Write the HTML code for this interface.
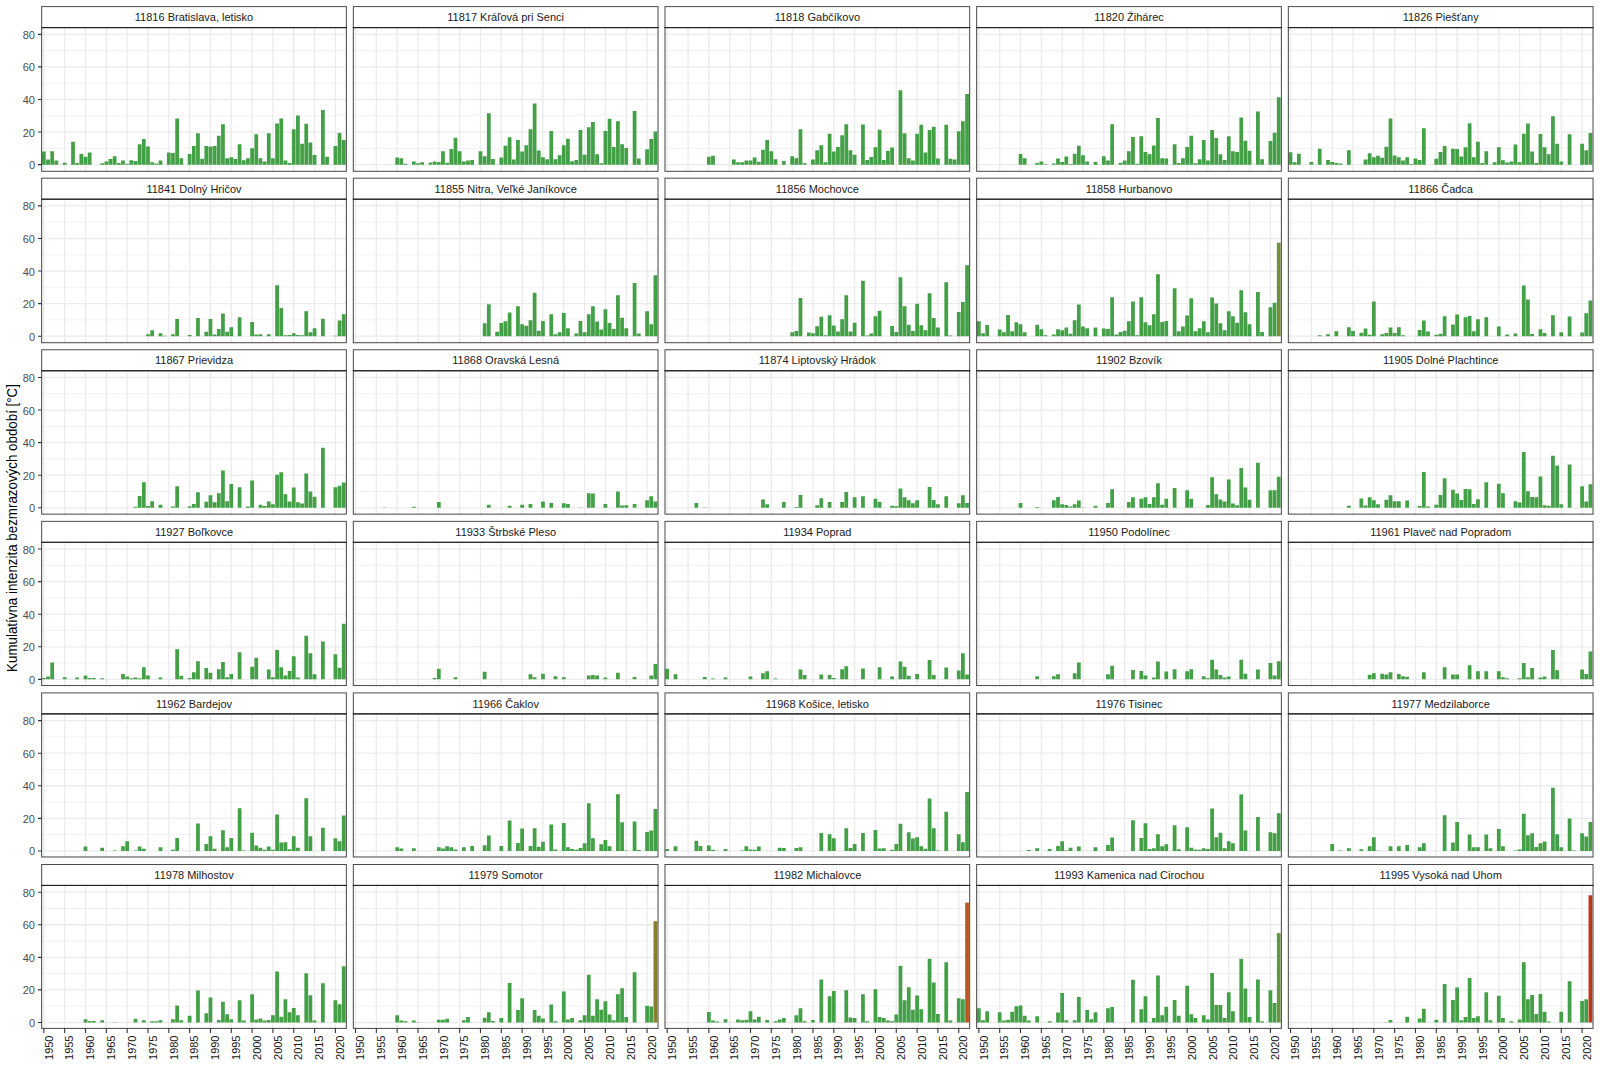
<!DOCTYPE html><html><head><meta charset="utf-8"><title>chart</title><style>html,body{margin:0;padding:0;background:#fff}svg{display:block}text{font-family:"Liberation Sans",sans-serif}</style></head><body>
<svg width="1600" height="1067" viewBox="0 0 1600 1067">
<rect width="1600" height="1067" fill="#fff"/>
<text transform="translate(16.9,528.0) rotate(-90) scale(0.941,1)" text-anchor="middle" font-size="14.2" fill="#000">Kumulatívna intenzita bezmrazových období [°C]</text>
<path d="M41.65 148.36h304.70M41.65 115.78h304.70M41.65 83.20h304.70M41.65 50.62h304.70" stroke="#ececec" stroke-width="0.7" fill="none"/>
<path d="M41.65 164.65h304.70M41.65 132.07h304.70M41.65 99.49h304.70M41.65 66.91h304.70M41.65 34.33h304.70M43.85 27.60v143.70M64.67 27.60v143.70M85.50 27.60v143.70M106.33 27.60v143.70M127.15 27.60v143.70M147.97 27.60v143.70M168.80 27.60v143.70M189.62 27.60v143.70M210.45 27.60v143.70M231.28 27.60v143.70M252.10 27.60v143.70M272.93 27.60v143.70M293.75 27.60v143.70M314.58 27.60v143.70M335.40 27.60v143.70" stroke="#ebebeb" stroke-width="1.3" fill="none"/>
<path d="M41.98 151.46h3.75v13.19h-3.75zM46.14 159.60h3.75v5.05h-3.75zM50.31 151.13h3.75v13.52h-3.75zM54.47 160.41h3.75v4.24h-3.75zM62.80 162.86h3.75v1.79h-3.75zM71.13 141.84h3.75v22.81h-3.75zM75.30 163.02h3.75v1.63h-3.75zM79.46 154.06h3.75v10.59h-3.75zM83.63 156.67h3.75v7.98h-3.75zM87.79 152.60h3.75v12.05h-3.75zM100.29 163.18h3.75v1.47h-3.75zM104.45 161.39h3.75v3.26h-3.75zM108.62 159.11h3.75v5.54h-3.75zM112.78 156.34h3.75v8.31h-3.75zM116.95 163.02h3.75v1.63h-3.75zM121.11 160.41h3.75v4.24h-3.75zM125.28 163.84h3.75v0.81h-3.75zM129.44 160.25h3.75v4.40h-3.75zM133.61 160.90h3.75v3.75h-3.75zM137.77 144.29h3.75v20.36h-3.75zM141.94 139.07h3.75v25.58h-3.75zM146.10 146.41h3.75v18.24h-3.75zM150.27 162.21h3.75v2.44h-3.75zM154.43 163.51h3.75v1.14h-3.75zM158.60 160.41h3.75v4.24h-3.75zM166.93 152.43h3.75v12.22h-3.75zM171.09 153.08h3.75v11.57h-3.75zM175.26 118.39h3.75v46.26h-3.75zM179.42 158.30h3.75v6.35h-3.75zM187.75 154.06h3.75v10.59h-3.75zM191.92 146.08h3.75v18.57h-3.75zM196.08 133.37h3.75v31.28h-3.75zM200.25 158.79h3.75v5.86h-3.75zM204.41 146.08h3.75v18.57h-3.75zM208.58 146.41h3.75v18.24h-3.75zM212.74 145.92h3.75v18.73h-3.75zM216.91 135.82h3.75v28.83h-3.75zM221.07 124.25h3.75v40.40h-3.75zM225.24 158.30h3.75v6.35h-3.75zM229.40 157.32h3.75v7.33h-3.75zM233.57 159.11h3.75v5.54h-3.75zM237.73 144.29h3.75v20.36h-3.75zM241.90 160.25h3.75v4.40h-3.75zM246.06 158.30h3.75v6.35h-3.75zM250.23 148.36h3.75v16.29h-3.75zM254.39 134.35h3.75v30.30h-3.75zM258.56 158.30h3.75v6.35h-3.75zM262.72 161.39h3.75v3.26h-3.75zM266.89 133.37h3.75v31.28h-3.75zM271.05 158.30h3.75v6.35h-3.75zM275.22 123.44h3.75v41.21h-3.75zM279.38 118.55h3.75v46.10h-3.75zM283.55 160.41h3.75v4.24h-3.75zM287.71 163.02h3.75v1.63h-3.75zM291.88 129.14h3.75v35.51h-3.75zM296.04 115.45h3.75v49.20h-3.75zM300.21 143.64h3.75v21.01h-3.75zM304.37 123.76h3.75v40.89h-3.75zM308.54 142.50h3.75v22.15h-3.75zM312.70 155.04h3.75v9.61h-3.75zM321.03 109.92h3.75v54.73h-3.75zM325.20 156.83h3.75v7.82h-3.75zM333.53 146.08h3.75v18.57h-3.75zM337.69 133.05h3.75v31.60h-3.75zM341.86 139.89h3.75v24.76h-3.75z" fill="#43a047"/>
<rect x="41.65" y="27.60" width="304.70" height="143.70" fill="none" stroke="#444" stroke-width="1.0"/>
<rect x="41.65" y="6.60" width="304.70" height="21.00" fill="#fff" stroke="#4a4a4a" stroke-width="1"/>
<line x1="41.15" x2="346.85" y1="27.60" y2="27.60" stroke="#1c1c1c" stroke-width="1.0"/>
<text transform="translate(194.00,21.30) scale(1.0,1)" text-anchor="middle" font-size="11.0" fill="#1a1a1a">11816 Bratislava, letisko</text>
<text transform="translate(35.00,169.20) scale(1.0,1)" text-anchor="end" font-size="11.0" fill="#4d4d4d">0</text>
<text transform="translate(35.00,136.62) scale(1.0,1)" text-anchor="end" font-size="11.0" fill="#4d4d4d">20</text>
<text transform="translate(35.00,104.04) scale(1.0,1)" text-anchor="end" font-size="11.0" fill="#4d4d4d">40</text>
<text transform="translate(35.00,71.46) scale(1.0,1)" text-anchor="end" font-size="11.0" fill="#4d4d4d">60</text>
<text transform="translate(35.00,38.88) scale(1.0,1)" text-anchor="end" font-size="11.0" fill="#4d4d4d">80</text>
<path d="M37.98 164.65h3.67M37.98 132.07h3.67M37.98 99.49h3.67M37.98 66.91h3.67M37.98 34.33h3.67" stroke="#333" stroke-width="1.1" fill="none"/>
<path d="M353.32 148.36h304.70M353.32 115.78h304.70M353.32 83.20h304.70M353.32 50.62h304.70" stroke="#ececec" stroke-width="0.7" fill="none"/>
<path d="M353.32 164.65h304.70M353.32 132.07h304.70M353.32 99.49h304.70M353.32 66.91h304.70M353.32 34.33h304.70M355.52 27.60v143.70M376.34 27.60v143.70M397.17 27.60v143.70M418.00 27.60v143.70M438.82 27.60v143.70M459.64 27.60v143.70M480.47 27.60v143.70M501.29 27.60v143.70M522.12 27.60v143.70M542.94 27.60v143.70M563.77 27.60v143.70M584.60 27.60v143.70M605.42 27.60v143.70M626.25 27.60v143.70M647.07 27.60v143.70" stroke="#ebebeb" stroke-width="1.3" fill="none"/>
<path d="M395.30 157.48h3.75v7.17h-3.75zM399.46 158.30h3.75v6.35h-3.75zM403.63 163.84h3.75v0.81h-3.75zM411.96 161.39h3.75v3.26h-3.75zM416.12 163.18h3.75v1.47h-3.75zM420.29 162.21h3.75v2.44h-3.75zM428.62 162.53h3.75v2.12h-3.75zM432.78 161.39h3.75v3.26h-3.75zM436.95 161.88h3.75v2.77h-3.75zM441.11 151.13h3.75v13.52h-3.75zM445.28 162.70h3.75v1.95h-3.75zM449.44 149.01h3.75v15.64h-3.75zM453.61 137.77h3.75v26.88h-3.75zM457.77 151.29h3.75v13.36h-3.75zM461.94 161.39h3.75v3.26h-3.75zM466.10 160.41h3.75v4.24h-3.75zM470.27 160.09h3.75v4.56h-3.75zM478.60 151.13h3.75v13.52h-3.75zM482.76 156.34h3.75v8.31h-3.75zM486.93 113.34h3.75v51.31h-3.75zM491.09 159.11h3.75v5.54h-3.75zM499.42 157.48h3.75v7.17h-3.75zM503.59 145.75h3.75v18.90h-3.75zM507.75 137.28h3.75v27.37h-3.75zM511.92 159.60h3.75v5.05h-3.75zM516.08 139.89h3.75v24.76h-3.75zM520.25 151.62h3.75v13.03h-3.75zM524.41 145.26h3.75v19.39h-3.75zM528.58 129.30h3.75v35.35h-3.75zM532.74 103.40h3.75v61.25h-3.75zM536.91 150.48h3.75v14.17h-3.75zM541.07 157.32h3.75v7.33h-3.75zM545.24 159.27h3.75v5.38h-3.75zM549.40 131.09h3.75v33.56h-3.75zM553.57 159.27h3.75v5.38h-3.75zM557.73 155.20h3.75v9.45h-3.75zM561.90 145.26h3.75v19.39h-3.75zM566.06 138.75h3.75v25.90h-3.75zM570.23 161.23h3.75v3.42h-3.75zM574.39 159.93h3.75v4.72h-3.75zM578.56 130.12h3.75v34.53h-3.75zM582.72 154.71h3.75v9.94h-3.75zM586.89 127.35h3.75v37.30h-3.75zM591.05 121.97h3.75v42.68h-3.75zM595.22 154.22h3.75v10.43h-3.75zM599.38 163.18h3.75v1.47h-3.75zM603.55 131.09h3.75v33.56h-3.75zM607.71 118.71h3.75v45.94h-3.75zM611.88 147.06h3.75v17.59h-3.75zM616.04 121.32h3.75v43.33h-3.75zM620.21 144.29h3.75v20.36h-3.75zM624.37 148.03h3.75v16.62h-3.75zM632.70 110.89h3.75v53.76h-3.75zM636.87 158.46h3.75v6.19h-3.75zM645.20 149.34h3.75v15.31h-3.75zM649.36 139.07h3.75v25.58h-3.75zM653.53 131.42h3.75v33.23h-3.75z" fill="#43a047"/>
<rect x="353.32" y="27.60" width="304.70" height="143.70" fill="none" stroke="#444" stroke-width="1.0"/>
<rect x="353.32" y="6.60" width="304.70" height="21.00" fill="#fff" stroke="#4a4a4a" stroke-width="1"/>
<line x1="352.82" x2="658.52" y1="27.60" y2="27.60" stroke="#1c1c1c" stroke-width="1.0"/>
<text transform="translate(505.67,21.30) scale(1.0,1)" text-anchor="middle" font-size="11.0" fill="#1a1a1a">11817 Kráľová pri Senci</text>
<path d="M664.99 148.36h304.70M664.99 115.78h304.70M664.99 83.20h304.70M664.99 50.62h304.70" stroke="#ececec" stroke-width="0.7" fill="none"/>
<path d="M664.99 164.65h304.70M664.99 132.07h304.70M664.99 99.49h304.70M664.99 66.91h304.70M664.99 34.33h304.70M667.19 27.60v143.70M688.02 27.60v143.70M708.84 27.60v143.70M729.67 27.60v143.70M750.49 27.60v143.70M771.32 27.60v143.70M792.14 27.60v143.70M812.97 27.60v143.70M833.79 27.60v143.70M854.62 27.60v143.70M875.44 27.60v143.70M896.27 27.60v143.70M917.09 27.60v143.70M937.92 27.60v143.70M958.74 27.60v143.70" stroke="#ebebeb" stroke-width="1.3" fill="none"/>
<path d="M706.97 156.67h3.75v7.98h-3.75zM711.13 155.85h3.75v8.80h-3.75zM731.96 159.60h3.75v5.05h-3.75zM736.12 162.21h3.75v2.44h-3.75zM740.29 162.21h3.75v2.44h-3.75zM744.45 160.58h3.75v4.07h-3.75zM748.62 160.58h3.75v4.07h-3.75zM752.78 157.48h3.75v7.17h-3.75zM756.95 161.72h3.75v2.93h-3.75zM761.11 149.66h3.75v14.99h-3.75zM765.28 139.89h3.75v24.76h-3.75zM769.44 151.29h3.75v13.36h-3.75zM773.61 159.27h3.75v5.38h-3.75zM781.94 161.07h3.75v3.58h-3.75zM790.27 156.34h3.75v8.31h-3.75zM794.43 158.13h3.75v6.52h-3.75zM798.60 129.30h3.75v35.35h-3.75zM802.76 163.18h3.75v1.47h-3.75zM811.09 159.60h3.75v5.05h-3.75zM815.26 150.31h3.75v14.34h-3.75zM819.42 145.26h3.75v19.39h-3.75zM823.59 162.21h3.75v2.44h-3.75zM827.75 133.70h3.75v30.95h-3.75zM831.92 151.62h3.75v13.03h-3.75zM836.08 147.06h3.75v17.59h-3.75zM840.25 135.33h3.75v29.32h-3.75zM844.41 124.25h3.75v40.40h-3.75zM848.58 150.31h3.75v14.34h-3.75zM852.74 154.71h3.75v9.94h-3.75zM861.07 124.58h3.75v40.07h-3.75zM865.24 159.93h3.75v4.72h-3.75zM869.40 156.99h3.75v7.66h-3.75zM873.57 147.22h3.75v17.43h-3.75zM877.73 129.63h3.75v35.02h-3.75zM881.90 160.09h3.75v4.56h-3.75zM886.06 150.80h3.75v13.85h-3.75zM890.23 147.55h3.75v17.10h-3.75zM898.56 90.37h3.75v74.28h-3.75zM902.72 133.37h3.75v31.28h-3.75zM906.89 158.13h3.75v6.52h-3.75zM911.05 160.41h3.75v4.24h-3.75zM915.22 133.70h3.75v30.95h-3.75zM919.38 124.74h3.75v39.91h-3.75zM923.55 152.43h3.75v12.22h-3.75zM927.71 129.95h3.75v34.70h-3.75zM931.88 126.86h3.75v37.79h-3.75zM936.04 158.46h3.75v6.19h-3.75zM944.37 124.74h3.75v39.91h-3.75zM948.54 158.79h3.75v5.86h-3.75zM952.70 159.60h3.75v5.05h-3.75zM956.87 131.26h3.75v33.39h-3.75zM961.03 121.32h3.75v43.33h-3.75zM965.20 94.11h3.75v70.54h-3.75z" fill="#43a047"/>
<rect x="664.99" y="27.60" width="304.70" height="143.70" fill="none" stroke="#444" stroke-width="1.0"/>
<rect x="664.99" y="6.60" width="304.70" height="21.00" fill="#fff" stroke="#4a4a4a" stroke-width="1"/>
<line x1="664.49" x2="970.19" y1="27.60" y2="27.60" stroke="#1c1c1c" stroke-width="1.0"/>
<text transform="translate(817.34,21.30) scale(1.0,1)" text-anchor="middle" font-size="11.0" fill="#1a1a1a">11818 Gabčíkovo</text>
<path d="M976.66 148.36h304.70M976.66 115.78h304.70M976.66 83.20h304.70M976.66 50.62h304.70" stroke="#ececec" stroke-width="0.7" fill="none"/>
<path d="M976.66 164.65h304.70M976.66 132.07h304.70M976.66 99.49h304.70M976.66 66.91h304.70M976.66 34.33h304.70M978.86 27.60v143.70M999.69 27.60v143.70M1020.51 27.60v143.70M1041.34 27.60v143.70M1062.16 27.60v143.70M1082.99 27.60v143.70M1103.81 27.60v143.70M1124.63 27.60v143.70M1145.46 27.60v143.70M1166.29 27.60v143.70M1187.11 27.60v143.70M1207.93 27.60v143.70M1228.76 27.60v143.70M1249.59 27.60v143.70M1270.41 27.60v143.70" stroke="#ebebeb" stroke-width="1.3" fill="none"/>
<path d="M1018.64 154.06h3.75v10.59h-3.75zM1022.80 158.30h3.75v6.35h-3.75zM1035.30 163.02h3.75v1.63h-3.75zM1039.46 161.39h3.75v3.26h-3.75zM1043.63 164.32h3.75v0.33h-3.75zM1051.96 163.51h3.75v1.14h-3.75zM1056.12 158.62h3.75v6.03h-3.75zM1060.29 161.88h3.75v2.77h-3.75zM1064.45 156.50h3.75v8.14h-3.75zM1068.62 164.00h3.75v0.65h-3.75zM1072.78 153.74h3.75v10.91h-3.75zM1076.95 145.75h3.75v18.90h-3.75zM1081.11 155.20h3.75v9.45h-3.75zM1085.28 161.39h3.75v3.26h-3.75zM1093.61 161.88h3.75v2.77h-3.75zM1101.94 156.34h3.75v8.31h-3.75zM1106.10 160.58h3.75v4.07h-3.75zM1110.27 124.25h3.75v40.40h-3.75zM1118.60 162.70h3.75v1.95h-3.75zM1122.76 160.41h3.75v4.24h-3.75zM1126.93 151.29h3.75v13.36h-3.75zM1131.09 136.96h3.75v27.69h-3.75zM1135.26 163.67h3.75v0.98h-3.75zM1139.42 136.14h3.75v28.51h-3.75zM1143.59 152.11h3.75v12.54h-3.75zM1147.75 154.22h3.75v10.43h-3.75zM1151.92 145.43h3.75v19.22h-3.75zM1156.08 117.90h3.75v46.75h-3.75zM1160.25 158.30h3.75v6.35h-3.75zM1164.41 158.46h3.75v6.19h-3.75zM1172.74 144.29h3.75v20.36h-3.75zM1176.91 163.02h3.75v1.63h-3.75zM1181.07 158.30h3.75v6.35h-3.75zM1185.24 147.06h3.75v17.59h-3.75zM1189.40 135.65h3.75v29.00h-3.75zM1193.57 163.18h3.75v1.47h-3.75zM1197.73 159.27h3.75v5.38h-3.75zM1201.90 139.89h3.75v24.76h-3.75zM1206.06 160.41h3.75v4.24h-3.75zM1210.23 130.12h3.75v34.53h-3.75zM1214.39 137.93h3.75v26.72h-3.75zM1218.56 154.22h3.75v10.43h-3.75zM1222.72 159.93h3.75v4.72h-3.75zM1226.89 136.31h3.75v28.34h-3.75zM1231.05 151.29h3.75v13.36h-3.75zM1235.22 152.11h3.75v12.54h-3.75zM1239.38 117.57h3.75v47.08h-3.75zM1243.55 140.87h3.75v23.78h-3.75zM1247.71 150.80h3.75v13.85h-3.75zM1256.04 111.38h3.75v53.27h-3.75zM1260.21 159.27h3.75v5.38h-3.75zM1268.54 141.03h3.75v23.62h-3.75zM1272.70 132.72h3.75v31.93h-3.75zM1276.87 97.21h3.75v67.44h-3.75z" fill="#43a047"/>
<rect x="976.66" y="27.60" width="304.70" height="143.70" fill="none" stroke="#444" stroke-width="1.0"/>
<rect x="976.66" y="6.60" width="304.70" height="21.00" fill="#fff" stroke="#4a4a4a" stroke-width="1"/>
<line x1="976.16" x2="1281.86" y1="27.60" y2="27.60" stroke="#1c1c1c" stroke-width="1.0"/>
<text transform="translate(1129.01,21.30) scale(1.0,1)" text-anchor="middle" font-size="11.0" fill="#1a1a1a">11820 Žihárec</text>
<path d="M1288.33 148.36h304.70M1288.33 115.78h304.70M1288.33 83.20h304.70M1288.33 50.62h304.70" stroke="#ececec" stroke-width="0.7" fill="none"/>
<path d="M1288.33 164.65h304.70M1288.33 132.07h304.70M1288.33 99.49h304.70M1288.33 66.91h304.70M1288.33 34.33h304.70M1290.53 27.60v143.70M1311.36 27.60v143.70M1332.18 27.60v143.70M1353.01 27.60v143.70M1373.83 27.60v143.70M1394.66 27.60v143.70M1415.48 27.60v143.70M1436.31 27.60v143.70M1457.13 27.60v143.70M1477.96 27.60v143.70M1498.78 27.60v143.70M1519.61 27.60v143.70M1540.43 27.60v143.70M1561.26 27.60v143.70M1582.08 27.60v143.70" stroke="#ebebeb" stroke-width="1.3" fill="none"/>
<path d="M1288.66 152.27h3.75v12.38h-3.75zM1292.82 162.21h3.75v2.44h-3.75zM1296.99 153.74h3.75v10.91h-3.75zM1309.48 162.04h3.75v2.61h-3.75zM1317.81 148.69h3.75v15.96h-3.75zM1326.14 160.09h3.75v4.56h-3.75zM1330.31 161.88h3.75v2.77h-3.75zM1334.47 163.02h3.75v1.63h-3.75zM1338.64 163.51h3.75v1.14h-3.75zM1346.97 150.15h3.75v14.50h-3.75zM1363.63 159.60h3.75v5.05h-3.75zM1367.79 153.25h3.75v11.40h-3.75zM1371.96 157.32h3.75v7.33h-3.75zM1376.12 155.85h3.75v8.80h-3.75zM1380.29 157.65h3.75v7.00h-3.75zM1384.45 146.73h3.75v17.92h-3.75zM1388.62 118.39h3.75v46.26h-3.75zM1392.78 155.53h3.75v9.12h-3.75zM1396.95 157.32h3.75v7.33h-3.75zM1401.11 160.58h3.75v4.07h-3.75zM1405.28 157.32h3.75v7.33h-3.75zM1409.44 164.00h3.75v0.65h-3.75zM1413.61 158.46h3.75v6.19h-3.75zM1417.77 159.93h3.75v4.72h-3.75zM1421.94 128.32h3.75v36.33h-3.75zM1434.43 158.79h3.75v5.86h-3.75zM1438.60 152.11h3.75v12.54h-3.75zM1442.76 146.08h3.75v18.57h-3.75zM1451.09 148.69h3.75v15.96h-3.75zM1455.26 149.01h3.75v15.64h-3.75zM1459.42 156.50h3.75v8.14h-3.75zM1463.59 147.22h3.75v17.43h-3.75zM1467.75 123.27h3.75v41.38h-3.75zM1471.92 157.32h3.75v7.33h-3.75zM1476.08 141.84h3.75v22.81h-3.75zM1480.25 163.02h3.75v1.63h-3.75zM1484.41 151.29h3.75v13.36h-3.75zM1492.74 162.21h3.75v2.44h-3.75zM1496.91 147.22h3.75v17.43h-3.75zM1501.07 160.25h3.75v4.40h-3.75zM1505.24 162.53h3.75v2.12h-3.75zM1509.40 161.39h3.75v3.26h-3.75zM1513.57 144.45h3.75v20.20h-3.75zM1517.73 162.21h3.75v2.44h-3.75zM1521.90 133.70h3.75v30.95h-3.75zM1526.06 123.44h3.75v41.21h-3.75zM1530.23 151.62h3.75v13.03h-3.75zM1534.39 163.02h3.75v1.63h-3.75zM1538.56 134.02h3.75v30.63h-3.75zM1542.72 147.22h3.75v17.43h-3.75zM1546.89 154.22h3.75v10.43h-3.75zM1551.05 116.27h3.75v48.38h-3.75zM1555.22 143.64h3.75v21.01h-3.75zM1559.38 161.39h3.75v3.26h-3.75zM1567.71 134.35h3.75v30.30h-3.75zM1580.21 143.64h3.75v21.01h-3.75zM1584.37 150.31h3.75v14.34h-3.75zM1588.54 133.05h3.75v31.60h-3.75z" fill="#43a047"/>
<rect x="1288.33" y="27.60" width="304.70" height="143.70" fill="none" stroke="#444" stroke-width="1.0"/>
<rect x="1288.33" y="6.60" width="304.70" height="21.00" fill="#fff" stroke="#4a4a4a" stroke-width="1"/>
<line x1="1287.83" x2="1593.53" y1="27.60" y2="27.60" stroke="#1c1c1c" stroke-width="1.0"/>
<text transform="translate(1440.68,21.30) scale(1.0,1)" text-anchor="middle" font-size="11.0" fill="#1a1a1a">11826 Piešťany</text>
<path d="M41.65 319.93h304.70M41.65 287.35h304.70M41.65 254.77h304.70M41.65 222.19h304.70" stroke="#ececec" stroke-width="0.7" fill="none"/>
<path d="M41.65 336.22h304.70M41.65 303.64h304.70M41.65 271.06h304.70M41.65 238.48h304.70M41.65 205.90h304.70M43.85 199.16v143.56M64.67 199.16v143.56M85.50 199.16v143.56M106.33 199.16v143.56M127.15 199.16v143.56M147.97 199.16v143.56M168.80 199.16v143.56M189.62 199.16v143.56M210.45 199.16v143.56M231.28 199.16v143.56M252.10 199.16v143.56M272.93 199.16v143.56M293.75 199.16v143.56M314.58 199.16v143.56M335.40 199.16v143.56" stroke="#ebebeb" stroke-width="1.3" fill="none"/>
<path d="M146.10 334.27h3.75v1.95h-3.75zM150.27 330.36h3.75v5.86h-3.75zM158.60 333.29h3.75v2.93h-3.75zM162.76 335.81h3.75v0.41h-3.75zM171.09 334.27h3.75v1.95h-3.75zM175.26 319.12h3.75v17.10h-3.75zM187.75 335.08h3.75v1.14h-3.75zM196.08 317.98h3.75v18.24h-3.75zM204.41 331.82h3.75v4.40h-3.75zM208.58 319.12h3.75v17.10h-3.75zM212.74 334.59h3.75v1.63h-3.75zM216.91 329.05h3.75v7.17h-3.75zM221.07 313.41h3.75v22.81h-3.75zM225.24 331.66h3.75v4.56h-3.75zM229.40 327.26h3.75v8.96h-3.75zM237.73 317.32h3.75v18.90h-3.75zM250.23 321.88h3.75v14.34h-3.75zM254.39 334.43h3.75v1.79h-3.75zM258.56 334.27h3.75v1.95h-3.75zM266.89 334.27h3.75v1.95h-3.75zM275.22 285.23h3.75v50.99h-3.75zM279.38 307.88h3.75v28.34h-3.75zM283.55 335.24h3.75v0.98h-3.75zM287.71 335.08h3.75v1.14h-3.75zM291.88 333.29h3.75v2.93h-3.75zM296.04 335.08h3.75v1.14h-3.75zM300.21 335.24h3.75v0.98h-3.75zM304.37 311.30h3.75v24.92h-3.75zM308.54 332.15h3.75v4.07h-3.75zM312.70 328.24h3.75v7.98h-3.75zM321.03 318.63h3.75v17.59h-3.75zM333.53 335.81h3.75v0.41h-3.75zM337.69 320.42h3.75v15.80h-3.75zM341.86 314.23h3.75v21.99h-3.75z" fill="#43a047"/>
<rect x="41.65" y="199.16" width="304.70" height="143.56" fill="none" stroke="#444" stroke-width="1.0"/>
<rect x="41.65" y="178.18" width="304.70" height="20.98" fill="#fff" stroke="#4a4a4a" stroke-width="1"/>
<line x1="41.15" x2="346.85" y1="199.16" y2="199.16" stroke="#1c1c1c" stroke-width="1.0"/>
<text transform="translate(194.00,192.88) scale(1.0,1)" text-anchor="middle" font-size="11.0" fill="#1a1a1a">11841 Dolný Hričov</text>
<text transform="translate(35.00,340.77) scale(1.0,1)" text-anchor="end" font-size="11.0" fill="#4d4d4d">0</text>
<text transform="translate(35.00,308.19) scale(1.0,1)" text-anchor="end" font-size="11.0" fill="#4d4d4d">20</text>
<text transform="translate(35.00,275.61) scale(1.0,1)" text-anchor="end" font-size="11.0" fill="#4d4d4d">40</text>
<text transform="translate(35.00,243.03) scale(1.0,1)" text-anchor="end" font-size="11.0" fill="#4d4d4d">60</text>
<text transform="translate(35.00,210.45) scale(1.0,1)" text-anchor="end" font-size="11.0" fill="#4d4d4d">80</text>
<path d="M37.98 336.22h3.67M37.98 303.64h3.67M37.98 271.06h3.67M37.98 238.48h3.67M37.98 205.90h3.67" stroke="#333" stroke-width="1.1" fill="none"/>
<path d="M353.32 319.93h304.70M353.32 287.35h304.70M353.32 254.77h304.70M353.32 222.19h304.70" stroke="#ececec" stroke-width="0.7" fill="none"/>
<path d="M353.32 336.22h304.70M353.32 303.64h304.70M353.32 271.06h304.70M353.32 238.48h304.70M353.32 205.90h304.70M355.52 199.16v143.56M376.34 199.16v143.56M397.17 199.16v143.56M418.00 199.16v143.56M438.82 199.16v143.56M459.64 199.16v143.56M480.47 199.16v143.56M501.29 199.16v143.56M522.12 199.16v143.56M542.94 199.16v143.56M563.77 199.16v143.56M584.60 199.16v143.56M605.42 199.16v143.56M626.25 199.16v143.56M647.07 199.16v143.56" stroke="#ebebeb" stroke-width="1.3" fill="none"/>
<path d="M482.76 323.19h3.75v13.03h-3.75zM486.93 304.13h3.75v32.09h-3.75zM495.26 331.82h3.75v4.40h-3.75zM499.42 323.03h3.75v13.19h-3.75zM503.59 321.23h3.75v14.99h-3.75zM507.75 312.44h3.75v23.78h-3.75zM516.08 306.25h3.75v29.97h-3.75zM520.25 324.17h3.75v12.05h-3.75zM524.41 325.79h3.75v10.43h-3.75zM528.58 320.26h3.75v15.96h-3.75zM532.74 292.73h3.75v43.49h-3.75zM536.91 330.84h3.75v5.38h-3.75zM541.07 320.91h3.75v15.31h-3.75zM549.40 314.23h3.75v21.99h-3.75zM553.57 334.27h3.75v1.95h-3.75zM557.73 332.15h3.75v4.07h-3.75zM561.90 312.93h3.75v23.29h-3.75zM566.06 328.24h3.75v7.98h-3.75zM574.39 333.61h3.75v2.61h-3.75zM578.56 320.91h3.75v15.31h-3.75zM582.72 332.15h3.75v4.07h-3.75zM586.89 314.23h3.75v21.99h-3.75zM591.05 306.25h3.75v29.97h-3.75zM595.22 321.40h3.75v14.82h-3.75zM599.38 329.38h3.75v6.84h-3.75zM603.55 309.34h3.75v26.88h-3.75zM607.71 323.03h3.75v13.19h-3.75zM611.88 329.05h3.75v7.17h-3.75zM616.04 295.33h3.75v40.89h-3.75zM620.21 317.65h3.75v18.57h-3.75zM624.37 328.24h3.75v7.98h-3.75zM632.70 283.11h3.75v53.11h-3.75zM636.87 333.61h3.75v2.61h-3.75zM645.20 311.30h3.75v24.92h-3.75zM649.36 324.17h3.75v12.05h-3.75zM653.53 275.30h3.75v60.92h-3.75z" fill="#43a047"/>
<rect x="353.32" y="199.16" width="304.70" height="143.56" fill="none" stroke="#444" stroke-width="1.0"/>
<rect x="353.32" y="178.18" width="304.70" height="20.98" fill="#fff" stroke="#4a4a4a" stroke-width="1"/>
<line x1="352.82" x2="658.52" y1="199.16" y2="199.16" stroke="#1c1c1c" stroke-width="1.0"/>
<text transform="translate(505.67,192.88) scale(1.0,1)" text-anchor="middle" font-size="11.0" fill="#1a1a1a">11855 Nitra, Veľké Janíkovce</text>
<path d="M664.99 319.93h304.70M664.99 287.35h304.70M664.99 254.77h304.70M664.99 222.19h304.70" stroke="#ececec" stroke-width="0.7" fill="none"/>
<path d="M664.99 336.22h304.70M664.99 303.64h304.70M664.99 271.06h304.70M664.99 238.48h304.70M664.99 205.90h304.70M667.19 199.16v143.56M688.02 199.16v143.56M708.84 199.16v143.56M729.67 199.16v143.56M750.49 199.16v143.56M771.32 199.16v143.56M792.14 199.16v143.56M812.97 199.16v143.56M833.79 199.16v143.56M854.62 199.16v143.56M875.44 199.16v143.56M896.27 199.16v143.56M917.09 199.16v143.56M937.92 199.16v143.56M958.74 199.16v143.56" stroke="#ebebeb" stroke-width="1.3" fill="none"/>
<path d="M790.27 332.15h3.75v4.07h-3.75zM794.43 331.01h3.75v5.21h-3.75zM798.60 297.94h3.75v38.28h-3.75zM806.93 332.47h3.75v3.75h-3.75zM811.09 333.29h3.75v2.93h-3.75zM815.26 326.28h3.75v9.94h-3.75zM819.42 316.83h3.75v19.39h-3.75zM823.59 335.24h3.75v0.98h-3.75zM827.75 315.21h3.75v21.01h-3.75zM831.92 325.47h3.75v10.75h-3.75zM836.08 331.50h3.75v4.72h-3.75zM840.25 319.28h3.75v16.94h-3.75zM844.41 295.33h3.75v40.89h-3.75zM848.58 331.50h3.75v4.72h-3.75zM852.74 322.70h3.75v13.52h-3.75zM861.07 280.83h3.75v55.39h-3.75zM865.24 335.41h3.75v0.81h-3.75zM869.40 333.61h3.75v2.61h-3.75zM873.57 316.18h3.75v20.04h-3.75zM877.73 310.64h3.75v25.58h-3.75zM890.23 325.96h3.75v10.26h-3.75zM894.39 331.98h3.75v4.24h-3.75zM898.56 277.25h3.75v58.97h-3.75zM902.72 306.25h3.75v29.97h-3.75zM906.89 324.65h3.75v11.57h-3.75zM911.05 331.01h3.75v5.21h-3.75zM915.22 303.64h3.75v32.58h-3.75zM919.38 325.31h3.75v10.91h-3.75zM923.55 330.19h3.75v6.03h-3.75zM927.71 293.21h3.75v43.01h-3.75zM931.88 317.98h3.75v18.24h-3.75zM936.04 327.42h3.75v8.80h-3.75zM944.37 282.30h3.75v53.92h-3.75zM948.54 335.41h3.75v0.81h-3.75zM956.87 312.11h3.75v24.11h-3.75zM961.03 302.01h3.75v34.21h-3.75zM965.20 265.20h3.75v71.02h-3.75z" fill="#43a047"/>
<rect x="664.99" y="199.16" width="304.70" height="143.56" fill="none" stroke="#444" stroke-width="1.0"/>
<rect x="664.99" y="178.18" width="304.70" height="20.98" fill="#fff" stroke="#4a4a4a" stroke-width="1"/>
<line x1="664.49" x2="970.19" y1="199.16" y2="199.16" stroke="#1c1c1c" stroke-width="1.0"/>
<text transform="translate(817.34,192.88) scale(1.0,1)" text-anchor="middle" font-size="11.0" fill="#1a1a1a">11856 Mochovce</text>
<path d="M976.66 319.93h304.70M976.66 287.35h304.70M976.66 254.77h304.70M976.66 222.19h304.70" stroke="#ececec" stroke-width="0.7" fill="none"/>
<path d="M976.66 336.22h304.70M976.66 303.64h304.70M976.66 271.06h304.70M976.66 238.48h304.70M976.66 205.90h304.70M978.86 199.16v143.56M999.69 199.16v143.56M1020.51 199.16v143.56M1041.34 199.16v143.56M1062.16 199.16v143.56M1082.99 199.16v143.56M1103.81 199.16v143.56M1124.63 199.16v143.56M1145.46 199.16v143.56M1166.29 199.16v143.56M1187.11 199.16v143.56M1207.93 199.16v143.56M1228.76 199.16v143.56M1249.59 199.16v143.56M1270.41 199.16v143.56" stroke="#ebebeb" stroke-width="1.3" fill="none"/>
<path d="M976.99 321.23h3.75v14.99h-3.75zM981.15 333.29h3.75v2.93h-3.75zM985.32 324.98h3.75v11.24h-3.75zM997.81 329.38h3.75v6.84h-3.75zM1001.98 332.15h3.75v4.07h-3.75zM1006.14 315.04h3.75v21.18h-3.75zM1010.31 331.17h3.75v5.05h-3.75zM1014.47 322.37h3.75v13.85h-3.75zM1018.64 324.17h3.75v12.05h-3.75zM1022.80 332.15h3.75v4.07h-3.75zM1035.30 324.65h3.75v11.57h-3.75zM1039.46 329.22h3.75v7.00h-3.75zM1043.63 335.24h3.75v0.98h-3.75zM1051.96 334.43h3.75v1.79h-3.75zM1056.12 329.22h3.75v7.00h-3.75zM1060.29 330.19h3.75v6.03h-3.75zM1064.45 327.42h3.75v8.80h-3.75zM1068.62 333.78h3.75v2.44h-3.75zM1072.78 320.26h3.75v15.96h-3.75zM1076.95 304.45h3.75v31.77h-3.75zM1081.11 326.61h3.75v9.61h-3.75zM1085.28 328.24h3.75v7.98h-3.75zM1093.61 327.42h3.75v8.80h-3.75zM1101.94 328.40h3.75v7.82h-3.75zM1106.10 329.05h3.75v7.17h-3.75zM1110.27 297.29h3.75v38.93h-3.75zM1114.43 334.43h3.75v1.79h-3.75zM1118.60 331.98h3.75v4.24h-3.75zM1122.76 330.68h3.75v5.54h-3.75zM1126.93 321.23h3.75v14.99h-3.75zM1131.09 301.52h3.75v34.70h-3.75zM1135.26 335.24h3.75v0.98h-3.75zM1139.42 297.29h3.75v38.93h-3.75zM1143.59 322.21h3.75v14.01h-3.75zM1147.75 325.31h3.75v10.91h-3.75zM1151.92 314.23h3.75v21.99h-3.75zM1156.08 274.32h3.75v61.90h-3.75zM1160.25 322.05h3.75v14.17h-3.75zM1164.41 321.07h3.75v15.15h-3.75zM1172.74 288.16h3.75v48.06h-3.75zM1176.91 331.17h3.75v5.05h-3.75zM1181.07 326.45h3.75v9.77h-3.75zM1185.24 315.53h3.75v20.69h-3.75zM1189.40 298.26h3.75v37.96h-3.75zM1193.57 331.17h3.75v5.05h-3.75zM1197.73 328.24h3.75v7.98h-3.75zM1201.90 321.23h3.75v14.99h-3.75zM1206.06 332.15h3.75v4.07h-3.75zM1210.23 297.45h3.75v38.77h-3.75zM1214.39 303.48h3.75v32.74h-3.75zM1218.56 323.19h3.75v13.03h-3.75zM1222.72 330.19h3.75v6.03h-3.75zM1226.89 311.30h3.75v24.92h-3.75zM1231.05 316.18h3.75v20.04h-3.75zM1235.22 322.70h3.75v13.52h-3.75zM1239.38 290.28h3.75v45.94h-3.75zM1243.55 312.27h3.75v23.95h-3.75zM1247.71 324.17h3.75v12.05h-3.75zM1256.04 291.91h3.75v44.31h-3.75zM1260.21 331.98h3.75v4.24h-3.75zM1268.54 307.22h3.75v29.00h-3.75zM1272.70 302.83h3.75v33.39h-3.75z" fill="#43a047"/>
<path d="M1276.87 242.72h3.75v93.50h-3.75z" fill="#728f3a"/>
<rect x="976.66" y="199.16" width="304.70" height="143.56" fill="none" stroke="#444" stroke-width="1.0"/>
<rect x="976.66" y="178.18" width="304.70" height="20.98" fill="#fff" stroke="#4a4a4a" stroke-width="1"/>
<line x1="976.16" x2="1281.86" y1="199.16" y2="199.16" stroke="#1c1c1c" stroke-width="1.0"/>
<text transform="translate(1129.01,192.88) scale(1.0,1)" text-anchor="middle" font-size="11.0" fill="#1a1a1a">11858 Hurbanovo</text>
<path d="M1288.33 319.93h304.70M1288.33 287.35h304.70M1288.33 254.77h304.70M1288.33 222.19h304.70" stroke="#ececec" stroke-width="0.7" fill="none"/>
<path d="M1288.33 336.22h304.70M1288.33 303.64h304.70M1288.33 271.06h304.70M1288.33 238.48h304.70M1288.33 205.90h304.70M1290.53 199.16v143.56M1311.36 199.16v143.56M1332.18 199.16v143.56M1353.01 199.16v143.56M1373.83 199.16v143.56M1394.66 199.16v143.56M1415.48 199.16v143.56M1436.31 199.16v143.56M1457.13 199.16v143.56M1477.96 199.16v143.56M1498.78 199.16v143.56M1519.61 199.16v143.56M1540.43 199.16v143.56M1561.26 199.16v143.56M1582.08 199.16v143.56" stroke="#ebebeb" stroke-width="1.3" fill="none"/>
<path d="M1317.81 335.24h3.75v0.98h-3.75zM1326.14 334.27h3.75v1.95h-3.75zM1334.47 331.17h3.75v5.05h-3.75zM1346.97 327.26h3.75v8.96h-3.75zM1351.13 331.01h3.75v5.21h-3.75zM1359.46 332.80h3.75v3.42h-3.75zM1363.63 328.40h3.75v7.82h-3.75zM1367.79 334.75h3.75v1.47h-3.75zM1371.96 301.52h3.75v34.70h-3.75zM1380.29 334.27h3.75v1.95h-3.75zM1384.45 332.96h3.75v3.26h-3.75zM1388.62 327.42h3.75v8.80h-3.75zM1392.78 332.96h3.75v3.26h-3.75zM1396.95 327.26h3.75v8.96h-3.75zM1401.11 335.24h3.75v0.98h-3.75zM1417.77 330.03h3.75v6.19h-3.75zM1421.94 320.42h3.75v15.80h-3.75zM1426.10 331.50h3.75v4.72h-3.75zM1434.43 334.75h3.75v1.47h-3.75zM1438.60 333.78h3.75v2.44h-3.75zM1442.76 316.18h3.75v20.04h-3.75zM1451.09 324.49h3.75v11.73h-3.75zM1455.26 314.39h3.75v21.83h-3.75zM1463.59 317.32h3.75v18.90h-3.75zM1467.75 316.02h3.75v20.20h-3.75zM1471.92 331.17h3.75v5.05h-3.75zM1476.08 319.28h3.75v16.94h-3.75zM1484.41 317.32h3.75v18.90h-3.75zM1496.91 326.45h3.75v9.77h-3.75zM1505.24 334.43h3.75v1.79h-3.75zM1513.57 333.61h3.75v2.61h-3.75zM1521.90 285.56h3.75v50.66h-3.75zM1526.06 299.40h3.75v36.82h-3.75zM1530.23 334.10h3.75v2.12h-3.75zM1538.56 329.22h3.75v7.00h-3.75zM1542.72 332.96h3.75v3.26h-3.75zM1551.05 315.21h3.75v21.01h-3.75zM1559.38 332.15h3.75v4.07h-3.75zM1567.71 316.51h3.75v19.71h-3.75zM1580.21 332.47h3.75v3.75h-3.75zM1584.37 313.25h3.75v22.97h-3.75zM1588.54 300.54h3.75v35.68h-3.75z" fill="#43a047"/>
<rect x="1288.33" y="199.16" width="304.70" height="143.56" fill="none" stroke="#444" stroke-width="1.0"/>
<rect x="1288.33" y="178.18" width="304.70" height="20.98" fill="#fff" stroke="#4a4a4a" stroke-width="1"/>
<line x1="1287.83" x2="1593.53" y1="199.16" y2="199.16" stroke="#1c1c1c" stroke-width="1.0"/>
<text transform="translate(1440.68,192.88) scale(1.0,1)" text-anchor="middle" font-size="11.0" fill="#1a1a1a">11866 Čadca</text>
<path d="M41.65 491.50h304.70M41.65 458.92h304.70M41.65 426.34h304.70M41.65 393.76h304.70" stroke="#ececec" stroke-width="0.7" fill="none"/>
<path d="M41.65 507.79h304.70M41.65 475.21h304.70M41.65 442.63h304.70M41.65 410.05h304.70M41.65 377.47h304.70M43.85 370.72v143.42M64.67 370.72v143.42M85.50 370.72v143.42M106.33 370.72v143.42M127.15 370.72v143.42M147.97 370.72v143.42M168.80 370.72v143.42M189.62 370.72v143.42M210.45 370.72v143.42M231.28 370.72v143.42M252.10 370.72v143.42M272.93 370.72v143.42M293.75 370.72v143.42M314.58 370.72v143.42M335.40 370.72v143.42" stroke="#ebebeb" stroke-width="1.3" fill="none"/>
<path d="M133.61 506.81h3.75v0.98h-3.75zM137.77 495.90h3.75v11.89h-3.75zM141.94 482.21h3.75v25.58h-3.75zM146.10 506.00h3.75v1.79h-3.75zM150.27 501.27h3.75v6.52h-3.75zM158.60 504.69h3.75v3.10h-3.75zM171.09 506.49h3.75v1.30h-3.75zM175.26 486.29h3.75v21.50h-3.75zM187.75 506.16h3.75v1.63h-3.75zM191.92 504.04h3.75v3.75h-3.75zM196.08 492.31h3.75v15.48h-3.75zM204.41 501.76h3.75v6.03h-3.75zM208.58 495.25h3.75v12.54h-3.75zM212.74 502.25h3.75v5.54h-3.75zM216.91 493.29h3.75v14.50h-3.75zM221.07 470.49h3.75v37.30h-3.75zM225.24 501.27h3.75v6.52h-3.75zM229.40 484.01h3.75v23.78h-3.75zM237.73 487.26h3.75v20.53h-3.75zM246.06 506.49h3.75v1.30h-3.75zM250.23 480.42h3.75v27.37h-3.75zM258.56 504.69h3.75v3.10h-3.75zM262.72 506.00h3.75v1.79h-3.75zM266.89 501.60h3.75v6.19h-3.75zM271.05 504.37h3.75v3.42h-3.75zM275.22 474.72h3.75v33.07h-3.75zM279.38 472.28h3.75v35.51h-3.75zM283.55 494.27h3.75v13.52h-3.75zM287.71 501.44h3.75v6.35h-3.75zM291.88 487.43h3.75v20.36h-3.75zM296.04 502.25h3.75v5.54h-3.75zM300.21 503.39h3.75v4.40h-3.75zM304.37 473.42h3.75v34.37h-3.75zM308.54 491.50h3.75v16.29h-3.75zM312.70 496.71h3.75v11.08h-3.75zM321.03 447.68h3.75v60.11h-3.75zM333.53 487.26h3.75v20.53h-3.75zM337.69 485.80h3.75v21.99h-3.75zM341.86 482.54h3.75v25.25h-3.75z" fill="#43a047"/>
<rect x="41.65" y="370.72" width="304.70" height="143.42" fill="none" stroke="#444" stroke-width="1.0"/>
<rect x="41.65" y="349.76" width="304.70" height="20.96" fill="#fff" stroke="#4a4a4a" stroke-width="1"/>
<line x1="41.15" x2="346.85" y1="370.72" y2="370.72" stroke="#1c1c1c" stroke-width="1.0"/>
<text transform="translate(194.00,364.46) scale(1.0,1)" text-anchor="middle" font-size="11.0" fill="#1a1a1a">11867 Prievidza</text>
<text transform="translate(35.00,512.34) scale(1.0,1)" text-anchor="end" font-size="11.0" fill="#4d4d4d">0</text>
<text transform="translate(35.00,479.76) scale(1.0,1)" text-anchor="end" font-size="11.0" fill="#4d4d4d">20</text>
<text transform="translate(35.00,447.18) scale(1.0,1)" text-anchor="end" font-size="11.0" fill="#4d4d4d">40</text>
<text transform="translate(35.00,414.60) scale(1.0,1)" text-anchor="end" font-size="11.0" fill="#4d4d4d">60</text>
<text transform="translate(35.00,382.02) scale(1.0,1)" text-anchor="end" font-size="11.0" fill="#4d4d4d">80</text>
<path d="M37.98 507.79h3.67M37.98 475.21h3.67M37.98 442.63h3.67M37.98 410.05h3.67M37.98 377.47h3.67" stroke="#333" stroke-width="1.1" fill="none"/>
<path d="M353.32 491.50h304.70M353.32 458.92h304.70M353.32 426.34h304.70M353.32 393.76h304.70" stroke="#ececec" stroke-width="0.7" fill="none"/>
<path d="M353.32 507.79h304.70M353.32 475.21h304.70M353.32 442.63h304.70M353.32 410.05h304.70M353.32 377.47h304.70M355.52 370.72v143.42M376.34 370.72v143.42M397.17 370.72v143.42M418.00 370.72v143.42M438.82 370.72v143.42M459.64 370.72v143.42M480.47 370.72v143.42M501.29 370.72v143.42M522.12 370.72v143.42M542.94 370.72v143.42M563.77 370.72v143.42M584.60 370.72v143.42M605.42 370.72v143.42M626.25 370.72v143.42M647.07 370.72v143.42" stroke="#ebebeb" stroke-width="1.3" fill="none"/>
<path d="M382.80 507.46h3.75v0.33h-3.75zM411.96 506.65h3.75v1.14h-3.75zM436.95 502.09h3.75v5.70h-3.75zM486.93 504.69h3.75v3.10h-3.75zM507.75 505.67h3.75v2.12h-3.75zM520.25 504.69h3.75v3.10h-3.75zM528.58 503.88h3.75v3.91h-3.75zM541.07 501.60h3.75v6.19h-3.75zM549.40 503.07h3.75v4.72h-3.75zM561.90 503.23h3.75v4.56h-3.75zM566.06 504.04h3.75v3.75h-3.75zM578.56 507.46h3.75v0.33h-3.75zM586.89 493.29h3.75v14.50h-3.75zM591.05 493.45h3.75v14.34h-3.75zM603.55 503.88h3.75v3.91h-3.75zM616.04 491.50h3.75v16.29h-3.75zM620.21 505.51h3.75v2.28h-3.75zM624.37 505.18h3.75v2.61h-3.75zM632.70 503.88h3.75v3.91h-3.75zM645.20 500.30h3.75v7.49h-3.75zM649.36 496.22h3.75v11.57h-3.75zM653.53 501.44h3.75v6.35h-3.75z" fill="#43a047"/>
<rect x="353.32" y="370.72" width="304.70" height="143.42" fill="none" stroke="#444" stroke-width="1.0"/>
<rect x="353.32" y="349.76" width="304.70" height="20.96" fill="#fff" stroke="#4a4a4a" stroke-width="1"/>
<line x1="352.82" x2="658.52" y1="370.72" y2="370.72" stroke="#1c1c1c" stroke-width="1.0"/>
<text transform="translate(505.67,364.46) scale(1.0,1)" text-anchor="middle" font-size="11.0" fill="#1a1a1a">11868 Oravská Lesná</text>
<path d="M664.99 491.50h304.70M664.99 458.92h304.70M664.99 426.34h304.70M664.99 393.76h304.70" stroke="#ececec" stroke-width="0.7" fill="none"/>
<path d="M664.99 507.79h304.70M664.99 475.21h304.70M664.99 442.63h304.70M664.99 410.05h304.70M664.99 377.47h304.70M667.19 370.72v143.42M688.02 370.72v143.42M708.84 370.72v143.42M729.67 370.72v143.42M750.49 370.72v143.42M771.32 370.72v143.42M792.14 370.72v143.42M812.97 370.72v143.42M833.79 370.72v143.42M854.62 370.72v143.42M875.44 370.72v143.42M896.27 370.72v143.42M917.09 370.72v143.42M937.92 370.72v143.42M958.74 370.72v143.42" stroke="#ebebeb" stroke-width="1.3" fill="none"/>
<path d="M694.47 503.07h3.75v4.72h-3.75zM702.80 507.46h3.75v0.33h-3.75zM761.11 499.48h3.75v8.31h-3.75zM765.28 504.21h3.75v3.58h-3.75zM781.94 502.09h3.75v5.70h-3.75zM794.43 506.98h3.75v0.81h-3.75zM798.60 494.92h3.75v12.87h-3.75zM815.26 505.18h3.75v2.61h-3.75zM819.42 498.18h3.75v9.61h-3.75zM827.75 502.09h3.75v5.70h-3.75zM840.25 502.09h3.75v5.70h-3.75zM844.41 491.99h3.75v15.80h-3.75zM852.74 497.36h3.75v10.43h-3.75zM861.07 496.22h3.75v11.57h-3.75zM873.57 498.83h3.75v8.96h-3.75zM877.73 502.09h3.75v5.70h-3.75zM890.23 505.84h3.75v1.95h-3.75zM894.39 506.16h3.75v1.63h-3.75zM898.56 488.40h3.75v19.39h-3.75zM902.72 497.20h3.75v10.59h-3.75zM906.89 500.30h3.75v7.49h-3.75zM911.05 503.23h3.75v4.56h-3.75zM915.22 500.30h3.75v7.49h-3.75zM927.71 487.10h3.75v20.69h-3.75zM931.88 499.97h3.75v7.82h-3.75zM936.04 504.21h3.75v3.58h-3.75zM944.37 496.22h3.75v11.57h-3.75zM956.87 503.23h3.75v4.56h-3.75zM961.03 495.25h3.75v12.54h-3.75zM965.20 502.90h3.75v4.89h-3.75z" fill="#43a047"/>
<rect x="664.99" y="370.72" width="304.70" height="143.42" fill="none" stroke="#444" stroke-width="1.0"/>
<rect x="664.99" y="349.76" width="304.70" height="20.96" fill="#fff" stroke="#4a4a4a" stroke-width="1"/>
<line x1="664.49" x2="970.19" y1="370.72" y2="370.72" stroke="#1c1c1c" stroke-width="1.0"/>
<text transform="translate(817.34,364.46) scale(1.0,1)" text-anchor="middle" font-size="11.0" fill="#1a1a1a">11874 Liptovský Hrádok</text>
<path d="M976.66 491.50h304.70M976.66 458.92h304.70M976.66 426.34h304.70M976.66 393.76h304.70" stroke="#ececec" stroke-width="0.7" fill="none"/>
<path d="M976.66 507.79h304.70M976.66 475.21h304.70M976.66 442.63h304.70M976.66 410.05h304.70M976.66 377.47h304.70M978.86 370.72v143.42M999.69 370.72v143.42M1020.51 370.72v143.42M1041.34 370.72v143.42M1062.16 370.72v143.42M1082.99 370.72v143.42M1103.81 370.72v143.42M1124.63 370.72v143.42M1145.46 370.72v143.42M1166.29 370.72v143.42M1187.11 370.72v143.42M1207.93 370.72v143.42M1228.76 370.72v143.42M1249.59 370.72v143.42M1270.41 370.72v143.42" stroke="#ebebeb" stroke-width="1.3" fill="none"/>
<path d="M1018.64 502.90h3.75v4.89h-3.75zM1035.30 506.98h3.75v0.81h-3.75zM1051.96 500.30h3.75v7.49h-3.75zM1056.12 497.04h3.75v10.75h-3.75zM1060.29 504.21h3.75v3.58h-3.75zM1064.45 505.02h3.75v2.77h-3.75zM1068.62 506.49h3.75v1.30h-3.75zM1072.78 504.37h3.75v3.42h-3.75zM1076.95 500.46h3.75v7.33h-3.75zM1081.11 507.46h3.75v0.33h-3.75zM1093.61 505.84h3.75v1.95h-3.75zM1106.10 503.07h3.75v4.72h-3.75zM1110.27 489.22h3.75v18.57h-3.75zM1126.93 502.09h3.75v5.70h-3.75zM1131.09 497.36h3.75v10.43h-3.75zM1139.42 498.83h3.75v8.96h-3.75zM1143.59 497.20h3.75v10.59h-3.75zM1147.75 504.04h3.75v3.75h-3.75zM1151.92 497.20h3.75v10.59h-3.75zM1156.08 483.19h3.75v24.60h-3.75zM1160.25 504.86h3.75v2.93h-3.75zM1164.41 498.83h3.75v8.96h-3.75zM1172.74 488.08h3.75v19.71h-3.75zM1185.24 490.20h3.75v17.59h-3.75zM1189.40 498.83h3.75v8.96h-3.75zM1206.06 505.02h3.75v2.77h-3.75zM1210.23 477.33h3.75v30.46h-3.75zM1214.39 494.27h3.75v13.52h-3.75zM1218.56 499.48h3.75v8.31h-3.75zM1222.72 501.60h3.75v6.19h-3.75zM1226.89 479.61h3.75v28.18h-3.75zM1231.05 503.39h3.75v4.40h-3.75zM1235.22 505.18h3.75v2.61h-3.75zM1239.38 467.88h3.75v39.91h-3.75zM1243.55 487.43h3.75v20.36h-3.75zM1247.71 499.64h3.75v8.14h-3.75zM1256.04 462.83h3.75v44.96h-3.75zM1268.54 490.20h3.75v17.59h-3.75zM1272.70 490.20h3.75v17.59h-3.75zM1276.87 476.84h3.75v30.95h-3.75z" fill="#43a047"/>
<rect x="976.66" y="370.72" width="304.70" height="143.42" fill="none" stroke="#444" stroke-width="1.0"/>
<rect x="976.66" y="349.76" width="304.70" height="20.96" fill="#fff" stroke="#4a4a4a" stroke-width="1"/>
<line x1="976.16" x2="1281.86" y1="370.72" y2="370.72" stroke="#1c1c1c" stroke-width="1.0"/>
<text transform="translate(1129.01,364.46) scale(1.0,1)" text-anchor="middle" font-size="11.0" fill="#1a1a1a">11902 Bzovík</text>
<path d="M1288.33 491.50h304.70M1288.33 458.92h304.70M1288.33 426.34h304.70M1288.33 393.76h304.70" stroke="#ececec" stroke-width="0.7" fill="none"/>
<path d="M1288.33 507.79h304.70M1288.33 475.21h304.70M1288.33 442.63h304.70M1288.33 410.05h304.70M1288.33 377.47h304.70M1290.53 370.72v143.42M1311.36 370.72v143.42M1332.18 370.72v143.42M1353.01 370.72v143.42M1373.83 370.72v143.42M1394.66 370.72v143.42M1415.48 370.72v143.42M1436.31 370.72v143.42M1457.13 370.72v143.42M1477.96 370.72v143.42M1498.78 370.72v143.42M1519.61 370.72v143.42M1540.43 370.72v143.42M1561.26 370.72v143.42M1582.08 370.72v143.42" stroke="#ebebeb" stroke-width="1.3" fill="none"/>
<path d="M1346.97 505.84h3.75v1.95h-3.75zM1359.46 498.50h3.75v9.29h-3.75zM1363.63 505.51h3.75v2.28h-3.75zM1367.79 497.20h3.75v10.59h-3.75zM1371.96 500.30h3.75v7.49h-3.75zM1376.12 504.37h3.75v3.42h-3.75zM1384.45 499.64h3.75v8.14h-3.75zM1388.62 495.25h3.75v12.54h-3.75zM1392.78 501.27h3.75v6.52h-3.75zM1396.95 501.27h3.75v6.52h-3.75zM1405.28 500.46h3.75v7.33h-3.75zM1417.77 506.00h3.75v1.79h-3.75zM1421.94 472.11h3.75v35.68h-3.75zM1426.10 506.49h3.75v1.30h-3.75zM1434.43 504.69h3.75v3.10h-3.75zM1438.60 494.92h3.75v12.87h-3.75zM1442.76 478.14h3.75v29.65h-3.75zM1451.09 489.87h3.75v17.92h-3.75zM1455.26 493.62h3.75v14.17h-3.75zM1459.42 499.97h3.75v7.82h-3.75zM1463.59 489.06h3.75v18.73h-3.75zM1467.75 489.22h3.75v18.57h-3.75zM1471.92 504.04h3.75v3.75h-3.75zM1476.08 499.32h3.75v8.47h-3.75zM1484.41 482.21h3.75v25.58h-3.75zM1496.91 483.84h3.75v23.95h-3.75zM1501.07 493.29h3.75v14.50h-3.75zM1513.57 501.27h3.75v6.52h-3.75zM1517.73 502.58h3.75v5.21h-3.75zM1521.90 451.92h3.75v55.87h-3.75zM1526.06 491.17h3.75v16.62h-3.75zM1530.23 497.04h3.75v10.75h-3.75zM1534.39 497.20h3.75v10.59h-3.75zM1538.56 476.51h3.75v31.28h-3.75zM1542.72 505.18h3.75v2.61h-3.75zM1546.89 505.67h3.75v2.12h-3.75zM1551.05 455.66h3.75v52.13h-3.75zM1555.22 465.44h3.75v42.35h-3.75zM1559.38 504.21h3.75v3.58h-3.75zM1567.71 464.62h3.75v43.17h-3.75zM1580.21 486.29h3.75v21.50h-3.75zM1584.37 501.44h3.75v6.35h-3.75zM1588.54 484.33h3.75v23.46h-3.75z" fill="#43a047"/>
<rect x="1288.33" y="370.72" width="304.70" height="143.42" fill="none" stroke="#444" stroke-width="1.0"/>
<rect x="1288.33" y="349.76" width="304.70" height="20.96" fill="#fff" stroke="#4a4a4a" stroke-width="1"/>
<line x1="1287.83" x2="1593.53" y1="370.72" y2="370.72" stroke="#1c1c1c" stroke-width="1.0"/>
<text transform="translate(1440.68,364.46) scale(1.0,1)" text-anchor="middle" font-size="11.0" fill="#1a1a1a">11905 Dolné Plachtince</text>
<path d="M41.65 663.07h304.70M41.65 630.49h304.70M41.65 597.91h304.70M41.65 565.33h304.70" stroke="#ececec" stroke-width="0.7" fill="none"/>
<path d="M41.65 679.36h304.70M41.65 646.78h304.70M41.65 614.20h304.70M41.65 581.62h304.70M41.65 549.04h304.70M43.85 542.28v143.28M64.67 542.28v143.28M85.50 542.28v143.28M106.33 542.28v143.28M127.15 542.28v143.28M147.97 542.28v143.28M168.80 542.28v143.28M189.62 542.28v143.28M210.45 542.28v143.28M231.28 542.28v143.28M252.10 542.28v143.28M272.93 542.28v143.28M293.75 542.28v143.28M314.58 542.28v143.28M335.40 542.28v143.28" stroke="#ebebeb" stroke-width="1.3" fill="none"/>
<path d="M41.98 678.06h3.75v1.30h-3.75zM46.14 676.59h3.75v2.77h-3.75zM50.31 662.42h3.75v16.94h-3.75zM62.80 677.24h3.75v2.12h-3.75zM75.30 677.57h3.75v1.79h-3.75zM83.63 675.61h3.75v3.75h-3.75zM87.79 678.06h3.75v1.30h-3.75zM91.96 678.06h3.75v1.30h-3.75zM100.29 678.22h3.75v1.14h-3.75zM121.11 673.98h3.75v5.38h-3.75zM125.28 676.43h3.75v2.93h-3.75zM129.44 678.22h3.75v1.14h-3.75zM133.61 677.57h3.75v1.79h-3.75zM137.77 678.22h3.75v1.14h-3.75zM141.94 667.14h3.75v12.22h-3.75zM146.10 675.45h3.75v3.91h-3.75zM158.60 677.41h3.75v1.95h-3.75zM175.26 649.22h3.75v30.14h-3.75zM179.42 675.78h3.75v3.58h-3.75zM187.75 678.06h3.75v1.30h-3.75zM191.92 672.19h3.75v7.17h-3.75zM196.08 661.28h3.75v18.08h-3.75zM204.41 667.96h3.75v11.40h-3.75zM208.58 672.68h3.75v6.68h-3.75zM216.91 669.26h3.75v10.10h-3.75zM221.07 662.09h3.75v17.27h-3.75zM225.24 677.24h3.75v2.12h-3.75zM229.40 673.98h3.75v5.38h-3.75zM237.73 652.16h3.75v27.20h-3.75zM250.23 666.82h3.75v12.54h-3.75zM254.39 657.86h3.75v21.50h-3.75zM266.89 669.42h3.75v9.94h-3.75zM271.05 677.24h3.75v2.12h-3.75zM275.22 649.88h3.75v29.48h-3.75zM279.38 667.14h3.75v12.22h-3.75zM283.55 675.45h3.75v3.91h-3.75zM287.71 670.89h3.75v8.47h-3.75zM291.88 656.23h3.75v23.13h-3.75zM296.04 677.41h3.75v1.95h-3.75zM304.37 635.70h3.75v43.66h-3.75zM308.54 653.30h3.75v26.06h-3.75zM312.70 674.15h3.75v5.21h-3.75zM321.03 641.40h3.75v37.96h-3.75zM333.53 654.27h3.75v25.09h-3.75zM337.69 667.63h3.75v11.73h-3.75zM341.86 623.81h3.75v55.55h-3.75z" fill="#43a047"/>
<rect x="41.65" y="542.28" width="304.70" height="143.28" fill="none" stroke="#444" stroke-width="1.0"/>
<rect x="41.65" y="521.34" width="304.70" height="20.94" fill="#fff" stroke="#4a4a4a" stroke-width="1"/>
<line x1="41.15" x2="346.85" y1="542.28" y2="542.28" stroke="#1c1c1c" stroke-width="1.0"/>
<text transform="translate(194.00,536.04) scale(1.0,1)" text-anchor="middle" font-size="11.0" fill="#1a1a1a">11927 Boľkovce</text>
<text transform="translate(35.00,683.91) scale(1.0,1)" text-anchor="end" font-size="11.0" fill="#4d4d4d">0</text>
<text transform="translate(35.00,651.33) scale(1.0,1)" text-anchor="end" font-size="11.0" fill="#4d4d4d">20</text>
<text transform="translate(35.00,618.75) scale(1.0,1)" text-anchor="end" font-size="11.0" fill="#4d4d4d">40</text>
<text transform="translate(35.00,586.17) scale(1.0,1)" text-anchor="end" font-size="11.0" fill="#4d4d4d">60</text>
<text transform="translate(35.00,553.59) scale(1.0,1)" text-anchor="end" font-size="11.0" fill="#4d4d4d">80</text>
<path d="M37.98 679.36h3.67M37.98 646.78h3.67M37.98 614.20h3.67M37.98 581.62h3.67M37.98 549.04h3.67" stroke="#333" stroke-width="1.1" fill="none"/>
<path d="M353.32 663.07h304.70M353.32 630.49h304.70M353.32 597.91h304.70M353.32 565.33h304.70" stroke="#ececec" stroke-width="0.7" fill="none"/>
<path d="M353.32 679.36h304.70M353.32 646.78h304.70M353.32 614.20h304.70M353.32 581.62h304.70M353.32 549.04h304.70M355.52 542.28v143.28M376.34 542.28v143.28M397.17 542.28v143.28M418.00 542.28v143.28M438.82 542.28v143.28M459.64 542.28v143.28M480.47 542.28v143.28M501.29 542.28v143.28M522.12 542.28v143.28M542.94 542.28v143.28M563.77 542.28v143.28M584.60 542.28v143.28M605.42 542.28v143.28M626.25 542.28v143.28M647.07 542.28v143.28" stroke="#ebebeb" stroke-width="1.3" fill="none"/>
<path d="M432.78 678.06h3.75v1.30h-3.75zM436.95 668.77h3.75v10.59h-3.75zM453.61 677.24h3.75v2.12h-3.75zM482.76 671.87h3.75v7.49h-3.75zM528.58 674.15h3.75v5.21h-3.75zM532.74 677.24h3.75v2.12h-3.75zM541.07 673.82h3.75v5.54h-3.75zM553.57 676.26h3.75v3.10h-3.75zM561.90 677.24h3.75v2.12h-3.75zM586.89 675.61h3.75v3.75h-3.75zM591.05 675.12h3.75v4.24h-3.75zM595.22 675.45h3.75v3.91h-3.75zM603.55 677.57h3.75v1.79h-3.75zM616.04 672.68h3.75v6.68h-3.75zM632.70 677.08h3.75v2.28h-3.75zM649.36 675.45h3.75v3.91h-3.75zM653.53 663.88h3.75v15.48h-3.75z" fill="#43a047"/>
<rect x="353.32" y="542.28" width="304.70" height="143.28" fill="none" stroke="#444" stroke-width="1.0"/>
<rect x="353.32" y="521.34" width="304.70" height="20.94" fill="#fff" stroke="#4a4a4a" stroke-width="1"/>
<line x1="352.82" x2="658.52" y1="542.28" y2="542.28" stroke="#1c1c1c" stroke-width="1.0"/>
<text transform="translate(505.67,536.04) scale(1.0,1)" text-anchor="middle" font-size="11.0" fill="#1a1a1a">11933 Štrbské Pleso</text>
<path d="M664.99 663.07h304.70M664.99 630.49h304.70M664.99 597.91h304.70M664.99 565.33h304.70" stroke="#ececec" stroke-width="0.7" fill="none"/>
<path d="M664.99 679.36h304.70M664.99 646.78h304.70M664.99 614.20h304.70M664.99 581.62h304.70M664.99 549.04h304.70M667.19 542.28v143.28M688.02 542.28v143.28M708.84 542.28v143.28M729.67 542.28v143.28M750.49 542.28v143.28M771.32 542.28v143.28M792.14 542.28v143.28M812.97 542.28v143.28M833.79 542.28v143.28M854.62 542.28v143.28M875.44 542.28v143.28M896.27 542.28v143.28M917.09 542.28v143.28M937.92 542.28v143.28M958.74 542.28v143.28" stroke="#ebebeb" stroke-width="1.3" fill="none"/>
<path d="M665.32 668.77h3.75v10.59h-3.75zM673.65 674.15h3.75v5.21h-3.75zM702.80 677.08h3.75v2.28h-3.75zM711.13 678.38h3.75v0.98h-3.75zM723.63 677.41h3.75v1.95h-3.75zM748.62 676.59h3.75v2.77h-3.75zM761.11 673.17h3.75v6.19h-3.75zM765.28 671.22h3.75v8.14h-3.75zM773.61 678.55h3.75v0.81h-3.75zM798.60 669.42h3.75v9.94h-3.75zM802.76 675.12h3.75v4.24h-3.75zM819.42 674.47h3.75v4.89h-3.75zM827.75 675.12h3.75v4.24h-3.75zM831.92 678.06h3.75v1.30h-3.75zM840.25 669.26h3.75v10.10h-3.75zM844.41 666.17h3.75v13.19h-3.75zM861.07 668.45h3.75v10.91h-3.75zM877.73 667.14h3.75v12.22h-3.75zM890.23 676.59h3.75v2.77h-3.75zM898.56 661.44h3.75v17.92h-3.75zM902.72 666.82h3.75v12.54h-3.75zM906.89 675.78h3.75v3.58h-3.75zM915.22 673.98h3.75v5.38h-3.75zM927.71 659.97h3.75v19.39h-3.75zM931.88 674.96h3.75v4.40h-3.75zM944.37 667.47h3.75v11.89h-3.75zM956.87 670.40h3.75v8.96h-3.75zM961.03 653.30h3.75v26.06h-3.75zM965.20 674.47h3.75v4.89h-3.75z" fill="#43a047"/>
<rect x="664.99" y="542.28" width="304.70" height="143.28" fill="none" stroke="#444" stroke-width="1.0"/>
<rect x="664.99" y="521.34" width="304.70" height="20.94" fill="#fff" stroke="#4a4a4a" stroke-width="1"/>
<line x1="664.49" x2="970.19" y1="542.28" y2="542.28" stroke="#1c1c1c" stroke-width="1.0"/>
<text transform="translate(817.34,536.04) scale(1.0,1)" text-anchor="middle" font-size="11.0" fill="#1a1a1a">11934 Poprad</text>
<path d="M976.66 663.07h304.70M976.66 630.49h304.70M976.66 597.91h304.70M976.66 565.33h304.70" stroke="#ececec" stroke-width="0.7" fill="none"/>
<path d="M976.66 679.36h304.70M976.66 646.78h304.70M976.66 614.20h304.70M976.66 581.62h304.70M976.66 549.04h304.70M978.86 542.28v143.28M999.69 542.28v143.28M1020.51 542.28v143.28M1041.34 542.28v143.28M1062.16 542.28v143.28M1082.99 542.28v143.28M1103.81 542.28v143.28M1124.63 542.28v143.28M1145.46 542.28v143.28M1166.29 542.28v143.28M1187.11 542.28v143.28M1207.93 542.28v143.28M1228.76 542.28v143.28M1249.59 542.28v143.28M1270.41 542.28v143.28" stroke="#ebebeb" stroke-width="1.3" fill="none"/>
<path d="M1035.30 676.26h3.75v3.10h-3.75zM1051.96 676.26h3.75v3.10h-3.75zM1056.12 674.15h3.75v5.21h-3.75zM1072.78 673.17h3.75v6.19h-3.75zM1076.95 662.42h3.75v16.94h-3.75zM1106.10 674.15h3.75v5.21h-3.75zM1110.27 665.68h3.75v13.68h-3.75zM1131.09 670.07h3.75v9.29h-3.75zM1139.42 670.89h3.75v8.47h-3.75zM1143.59 675.61h3.75v3.75h-3.75zM1151.92 677.41h3.75v1.95h-3.75zM1156.08 661.60h3.75v17.76h-3.75zM1164.41 671.38h3.75v7.98h-3.75zM1172.74 669.26h3.75v10.10h-3.75zM1185.24 671.22h3.75v8.14h-3.75zM1189.40 669.26h3.75v10.10h-3.75zM1201.90 676.26h3.75v3.10h-3.75zM1206.06 678.22h3.75v1.14h-3.75zM1210.23 659.81h3.75v19.55h-3.75zM1214.39 669.42h3.75v9.94h-3.75zM1218.56 675.12h3.75v4.24h-3.75zM1222.72 677.57h3.75v1.79h-3.75zM1226.89 676.59h3.75v2.77h-3.75zM1239.38 659.65h3.75v19.71h-3.75zM1243.55 673.66h3.75v5.70h-3.75zM1256.04 669.42h3.75v9.94h-3.75zM1268.54 663.07h3.75v16.29h-3.75zM1272.70 675.45h3.75v3.91h-3.75zM1276.87 661.28h3.75v18.08h-3.75z" fill="#43a047"/>
<rect x="976.66" y="542.28" width="304.70" height="143.28" fill="none" stroke="#444" stroke-width="1.0"/>
<rect x="976.66" y="521.34" width="304.70" height="20.94" fill="#fff" stroke="#4a4a4a" stroke-width="1"/>
<line x1="976.16" x2="1281.86" y1="542.28" y2="542.28" stroke="#1c1c1c" stroke-width="1.0"/>
<text transform="translate(1129.01,536.04) scale(1.0,1)" text-anchor="middle" font-size="11.0" fill="#1a1a1a">11950 Podolínec</text>
<path d="M1288.33 663.07h304.70M1288.33 630.49h304.70M1288.33 597.91h304.70M1288.33 565.33h304.70" stroke="#ececec" stroke-width="0.7" fill="none"/>
<path d="M1288.33 679.36h304.70M1288.33 646.78h304.70M1288.33 614.20h304.70M1288.33 581.62h304.70M1288.33 549.04h304.70M1290.53 542.28v143.28M1311.36 542.28v143.28M1332.18 542.28v143.28M1353.01 542.28v143.28M1373.83 542.28v143.28M1394.66 542.28v143.28M1415.48 542.28v143.28M1436.31 542.28v143.28M1457.13 542.28v143.28M1477.96 542.28v143.28M1498.78 542.28v143.28M1519.61 542.28v143.28M1540.43 542.28v143.28M1561.26 542.28v143.28M1582.08 542.28v143.28" stroke="#ebebeb" stroke-width="1.3" fill="none"/>
<path d="M1367.79 674.80h3.75v4.56h-3.75zM1371.96 673.33h3.75v6.03h-3.75zM1380.29 673.66h3.75v5.70h-3.75zM1384.45 674.47h3.75v4.89h-3.75zM1388.62 672.19h3.75v7.17h-3.75zM1396.95 673.98h3.75v5.38h-3.75zM1401.11 676.26h3.75v3.10h-3.75zM1405.28 676.75h3.75v2.61h-3.75zM1421.94 672.19h3.75v7.17h-3.75zM1442.76 667.14h3.75v12.22h-3.75zM1451.09 674.47h3.75v4.89h-3.75zM1455.26 674.47h3.75v4.89h-3.75zM1467.75 665.35h3.75v14.01h-3.75zM1476.08 671.22h3.75v8.14h-3.75zM1484.41 671.22h3.75v8.14h-3.75zM1496.91 671.22h3.75v8.14h-3.75zM1501.07 677.24h3.75v2.12h-3.75zM1505.24 678.22h3.75v1.14h-3.75zM1517.73 678.22h3.75v1.14h-3.75zM1521.90 663.07h3.75v16.29h-3.75zM1526.06 677.24h3.75v2.12h-3.75zM1530.23 667.96h3.75v11.40h-3.75zM1538.56 677.41h3.75v1.95h-3.75zM1542.72 676.59h3.75v2.77h-3.75zM1551.05 650.04h3.75v29.32h-3.75zM1555.22 670.24h3.75v9.12h-3.75zM1580.21 669.59h3.75v9.77h-3.75zM1584.37 673.98h3.75v5.38h-3.75zM1588.54 651.50h3.75v27.86h-3.75z" fill="#43a047"/>
<rect x="1288.33" y="542.28" width="304.70" height="143.28" fill="none" stroke="#444" stroke-width="1.0"/>
<rect x="1288.33" y="521.34" width="304.70" height="20.94" fill="#fff" stroke="#4a4a4a" stroke-width="1"/>
<line x1="1287.83" x2="1593.53" y1="542.28" y2="542.28" stroke="#1c1c1c" stroke-width="1.0"/>
<text transform="translate(1440.68,536.04) scale(1.0,1)" text-anchor="middle" font-size="11.0" fill="#1a1a1a">11961 Plaveč nad Popradom</text>
<path d="M41.65 834.64h304.70M41.65 802.06h304.70M41.65 769.48h304.70M41.65 736.90h304.70" stroke="#ececec" stroke-width="0.7" fill="none"/>
<path d="M41.65 850.93h304.70M41.65 818.35h304.70M41.65 785.77h304.70M41.65 753.19h304.70M41.65 720.61h304.70M43.85 713.84v143.14M64.67 713.84v143.14M85.50 713.84v143.14M106.33 713.84v143.14M127.15 713.84v143.14M147.97 713.84v143.14M168.80 713.84v143.14M189.62 713.84v143.14M210.45 713.84v143.14M231.28 713.84v143.14M252.10 713.84v143.14M272.93 713.84v143.14M293.75 713.84v143.14M314.58 713.84v143.14M335.40 713.84v143.14" stroke="#ebebeb" stroke-width="1.3" fill="none"/>
<path d="M83.63 846.53h3.75v4.40h-3.75zM100.29 847.83h3.75v3.10h-3.75zM112.78 850.60h3.75v0.33h-3.75zM121.11 846.21h3.75v4.72h-3.75zM125.28 841.16h3.75v9.77h-3.75zM133.61 850.60h3.75v0.33h-3.75zM137.77 846.53h3.75v4.40h-3.75zM141.94 848.65h3.75v2.28h-3.75zM158.60 847.35h3.75v3.58h-3.75zM171.09 849.63h3.75v1.30h-3.75zM175.26 838.06h3.75v12.87h-3.75zM196.08 823.40h3.75v27.53h-3.75zM204.41 844.09h3.75v6.84h-3.75zM208.58 836.27h3.75v14.66h-3.75zM212.74 848.65h3.75v2.28h-3.75zM221.07 830.24h3.75v20.69h-3.75zM225.24 847.18h3.75v3.75h-3.75zM229.40 837.90h3.75v13.03h-3.75zM237.73 808.25h3.75v42.68h-3.75zM241.90 850.60h3.75v0.33h-3.75zM250.23 832.69h3.75v18.24h-3.75zM254.39 845.39h3.75v5.54h-3.75zM258.56 847.67h3.75v3.26h-3.75zM262.72 849.79h3.75v1.14h-3.75zM266.89 846.53h3.75v4.40h-3.75zM271.05 849.79h3.75v1.14h-3.75zM275.22 814.44h3.75v36.49h-3.75zM279.38 842.62h3.75v8.31h-3.75zM283.55 842.30h3.75v8.63h-3.75zM287.71 849.14h3.75v1.79h-3.75zM291.88 836.27h3.75v14.66h-3.75zM296.04 847.67h3.75v3.26h-3.75zM304.37 798.31h3.75v52.62h-3.75zM308.54 836.27h3.75v14.66h-3.75zM321.03 827.80h3.75v23.13h-3.75zM333.53 838.22h3.75v12.71h-3.75zM337.69 841.16h3.75v9.77h-3.75zM341.86 815.42h3.75v35.51h-3.75z" fill="#43a047"/>
<rect x="41.65" y="713.84" width="304.70" height="143.14" fill="none" stroke="#444" stroke-width="1.0"/>
<rect x="41.65" y="692.92" width="304.70" height="20.92" fill="#fff" stroke="#4a4a4a" stroke-width="1"/>
<line x1="41.15" x2="346.85" y1="713.84" y2="713.84" stroke="#1c1c1c" stroke-width="1.0"/>
<text transform="translate(194.00,707.62) scale(1.0,1)" text-anchor="middle" font-size="11.0" fill="#1a1a1a">11962 Bardejov</text>
<text transform="translate(35.00,855.48) scale(1.0,1)" text-anchor="end" font-size="11.0" fill="#4d4d4d">0</text>
<text transform="translate(35.00,822.90) scale(1.0,1)" text-anchor="end" font-size="11.0" fill="#4d4d4d">20</text>
<text transform="translate(35.00,790.32) scale(1.0,1)" text-anchor="end" font-size="11.0" fill="#4d4d4d">40</text>
<text transform="translate(35.00,757.74) scale(1.0,1)" text-anchor="end" font-size="11.0" fill="#4d4d4d">60</text>
<text transform="translate(35.00,725.16) scale(1.0,1)" text-anchor="end" font-size="11.0" fill="#4d4d4d">80</text>
<path d="M37.98 850.93h3.67M37.98 818.35h3.67M37.98 785.77h3.67M37.98 753.19h3.67M37.98 720.61h3.67" stroke="#333" stroke-width="1.1" fill="none"/>
<path d="M353.32 834.64h304.70M353.32 802.06h304.70M353.32 769.48h304.70M353.32 736.90h304.70" stroke="#ececec" stroke-width="0.7" fill="none"/>
<path d="M353.32 850.93h304.70M353.32 818.35h304.70M353.32 785.77h304.70M353.32 753.19h304.70M353.32 720.61h304.70M355.52 713.84v143.14M376.34 713.84v143.14M397.17 713.84v143.14M418.00 713.84v143.14M438.82 713.84v143.14M459.64 713.84v143.14M480.47 713.84v143.14M501.29 713.84v143.14M522.12 713.84v143.14M542.94 713.84v143.14M563.77 713.84v143.14M584.60 713.84v143.14M605.42 713.84v143.14M626.25 713.84v143.14M647.07 713.84v143.14" stroke="#ebebeb" stroke-width="1.3" fill="none"/>
<path d="M395.30 847.35h3.75v3.58h-3.75zM399.46 848.49h3.75v2.44h-3.75zM411.96 848.16h3.75v2.77h-3.75zM436.95 847.18h3.75v3.75h-3.75zM441.11 848.49h3.75v2.44h-3.75zM445.28 846.21h3.75v4.72h-3.75zM449.44 847.18h3.75v3.75h-3.75zM453.61 849.46h3.75v1.47h-3.75zM461.94 847.35h3.75v3.58h-3.75zM470.27 845.88h3.75v5.05h-3.75zM482.76 845.23h3.75v5.70h-3.75zM486.93 835.45h3.75v15.48h-3.75zM499.42 845.88h3.75v5.05h-3.75zM507.75 820.47h3.75v30.46h-3.75zM516.08 842.95h3.75v7.98h-3.75zM520.25 828.45h3.75v22.48h-3.75zM528.58 845.88h3.75v5.05h-3.75zM532.74 828.29h3.75v22.64h-3.75zM536.91 846.86h3.75v4.07h-3.75zM541.07 841.64h3.75v9.29h-3.75zM549.40 824.38h3.75v26.55h-3.75zM553.57 849.46h3.75v1.47h-3.75zM561.90 823.07h3.75v27.86h-3.75zM566.06 847.18h3.75v3.75h-3.75zM570.23 848.98h3.75v1.95h-3.75zM574.39 849.63h3.75v1.30h-3.75zM578.56 848.00h3.75v2.93h-3.75zM582.72 843.27h3.75v7.66h-3.75zM586.89 803.20h3.75v47.73h-3.75zM591.05 838.22h3.75v12.71h-3.75zM599.38 844.25h3.75v6.68h-3.75zM603.55 840.02h3.75v10.91h-3.75zM607.71 846.21h3.75v4.72h-3.75zM616.04 794.24h3.75v56.69h-3.75zM620.21 822.26h3.75v28.67h-3.75zM624.37 850.60h3.75v0.33h-3.75zM632.70 821.45h3.75v29.48h-3.75zM636.87 849.95h3.75v0.98h-3.75zM645.20 832.03h3.75v18.90h-3.75zM649.36 830.40h3.75v20.53h-3.75zM653.53 808.90h3.75v42.03h-3.75z" fill="#43a047"/>
<rect x="353.32" y="713.84" width="304.70" height="143.14" fill="none" stroke="#444" stroke-width="1.0"/>
<rect x="353.32" y="692.92" width="304.70" height="20.92" fill="#fff" stroke="#4a4a4a" stroke-width="1"/>
<line x1="352.82" x2="658.52" y1="713.84" y2="713.84" stroke="#1c1c1c" stroke-width="1.0"/>
<text transform="translate(505.67,707.62) scale(1.0,1)" text-anchor="middle" font-size="11.0" fill="#1a1a1a">11966 Čaklov</text>
<path d="M664.99 834.64h304.70M664.99 802.06h304.70M664.99 769.48h304.70M664.99 736.90h304.70" stroke="#ececec" stroke-width="0.7" fill="none"/>
<path d="M664.99 850.93h304.70M664.99 818.35h304.70M664.99 785.77h304.70M664.99 753.19h304.70M664.99 720.61h304.70M667.19 713.84v143.14M688.02 713.84v143.14M708.84 713.84v143.14M729.67 713.84v143.14M750.49 713.84v143.14M771.32 713.84v143.14M792.14 713.84v143.14M812.97 713.84v143.14M833.79 713.84v143.14M854.62 713.84v143.14M875.44 713.84v143.14M896.27 713.84v143.14M917.09 713.84v143.14M937.92 713.84v143.14M958.74 713.84v143.14" stroke="#ebebeb" stroke-width="1.3" fill="none"/>
<path d="M665.32 848.98h3.75v1.95h-3.75zM673.65 846.21h3.75v4.72h-3.75zM694.47 840.83h3.75v10.10h-3.75zM698.64 845.88h3.75v5.05h-3.75zM706.97 845.55h3.75v5.38h-3.75zM711.13 849.79h3.75v1.14h-3.75zM715.30 850.77h3.75v0.16h-3.75zM723.63 848.98h3.75v1.95h-3.75zM740.29 850.60h3.75v0.33h-3.75zM744.45 846.21h3.75v4.72h-3.75zM748.62 849.46h3.75v1.47h-3.75zM752.78 849.79h3.75v1.14h-3.75zM756.95 846.53h3.75v4.40h-3.75zM777.77 847.67h3.75v3.26h-3.75zM781.94 848.00h3.75v2.93h-3.75zM794.43 848.00h3.75v2.93h-3.75zM798.60 847.35h3.75v3.58h-3.75zM819.42 833.01h3.75v17.92h-3.75zM827.75 834.15h3.75v16.78h-3.75zM831.92 838.22h3.75v12.71h-3.75zM844.41 828.29h3.75v22.64h-3.75zM848.58 848.00h3.75v2.93h-3.75zM852.74 844.09h3.75v6.84h-3.75zM861.07 833.01h3.75v17.92h-3.75zM873.57 829.92h3.75v21.01h-3.75zM877.73 848.49h3.75v2.44h-3.75zM881.90 848.16h3.75v2.77h-3.75zM890.23 849.63h3.75v1.30h-3.75zM894.39 844.09h3.75v6.84h-3.75zM898.56 823.73h3.75v27.20h-3.75zM906.89 832.20h3.75v18.73h-3.75zM911.05 838.39h3.75v12.54h-3.75zM915.22 837.25h3.75v13.68h-3.75zM919.38 846.21h3.75v4.72h-3.75zM923.55 848.81h3.75v2.12h-3.75zM927.71 798.48h3.75v52.45h-3.75zM931.88 828.29h3.75v22.64h-3.75zM936.04 850.60h3.75v0.33h-3.75zM944.37 811.67h3.75v39.26h-3.75zM956.87 834.15h3.75v16.78h-3.75zM961.03 842.30h3.75v8.63h-3.75zM965.20 792.12h3.75v58.81h-3.75z" fill="#43a047"/>
<rect x="664.99" y="713.84" width="304.70" height="143.14" fill="none" stroke="#444" stroke-width="1.0"/>
<rect x="664.99" y="692.92" width="304.70" height="20.92" fill="#fff" stroke="#4a4a4a" stroke-width="1"/>
<line x1="664.49" x2="970.19" y1="713.84" y2="713.84" stroke="#1c1c1c" stroke-width="1.0"/>
<text transform="translate(817.34,707.62) scale(1.0,1)" text-anchor="middle" font-size="11.0" fill="#1a1a1a">11968 Košice, letisko</text>
<path d="M976.66 834.64h304.70M976.66 802.06h304.70M976.66 769.48h304.70M976.66 736.90h304.70" stroke="#ececec" stroke-width="0.7" fill="none"/>
<path d="M976.66 850.93h304.70M976.66 818.35h304.70M976.66 785.77h304.70M976.66 753.19h304.70M976.66 720.61h304.70M978.86 713.84v143.14M999.69 713.84v143.14M1020.51 713.84v143.14M1041.34 713.84v143.14M1062.16 713.84v143.14M1082.99 713.84v143.14M1103.81 713.84v143.14M1124.63 713.84v143.14M1145.46 713.84v143.14M1166.29 713.84v143.14M1187.11 713.84v143.14M1207.93 713.84v143.14M1228.76 713.84v143.14M1249.59 713.84v143.14M1270.41 713.84v143.14" stroke="#ebebeb" stroke-width="1.3" fill="none"/>
<path d="M1026.97 849.95h3.75v0.98h-3.75zM1035.30 848.16h3.75v2.77h-3.75zM1047.79 848.98h3.75v1.95h-3.75zM1056.12 845.88h3.75v5.05h-3.75zM1060.29 841.16h3.75v9.77h-3.75zM1064.45 850.60h3.75v0.33h-3.75zM1068.62 847.67h3.75v3.26h-3.75zM1076.95 846.53h3.75v4.40h-3.75zM1093.61 847.35h3.75v3.58h-3.75zM1106.10 845.07h3.75v5.86h-3.75zM1110.27 837.41h3.75v13.52h-3.75zM1131.09 820.30h3.75v30.63h-3.75zM1139.42 837.90h3.75v13.03h-3.75zM1143.59 823.24h3.75v27.69h-3.75zM1147.75 848.98h3.75v1.95h-3.75zM1151.92 848.16h3.75v2.77h-3.75zM1156.08 834.15h3.75v16.78h-3.75zM1160.25 846.21h3.75v4.72h-3.75zM1164.41 844.25h3.75v6.68h-3.75zM1172.74 825.19h3.75v25.74h-3.75zM1176.91 849.14h3.75v1.79h-3.75zM1185.24 827.31h3.75v23.62h-3.75zM1189.40 847.67h3.75v3.26h-3.75zM1193.57 849.46h3.75v1.47h-3.75zM1197.73 849.63h3.75v1.30h-3.75zM1201.90 848.16h3.75v2.77h-3.75zM1206.06 848.98h3.75v1.95h-3.75zM1210.23 808.41h3.75v42.52h-3.75zM1214.39 837.25h3.75v13.68h-3.75zM1218.56 832.69h3.75v18.24h-3.75zM1222.72 848.16h3.75v2.77h-3.75zM1226.89 841.16h3.75v9.77h-3.75zM1231.05 843.27h3.75v7.66h-3.75zM1239.38 794.57h3.75v56.36h-3.75zM1243.55 830.57h3.75v20.36h-3.75zM1256.04 816.88h3.75v34.05h-3.75zM1268.54 832.36h3.75v18.57h-3.75zM1272.70 833.17h3.75v17.76h-3.75zM1276.87 813.14h3.75v37.79h-3.75z" fill="#43a047"/>
<rect x="976.66" y="713.84" width="304.70" height="143.14" fill="none" stroke="#444" stroke-width="1.0"/>
<rect x="976.66" y="692.92" width="304.70" height="20.92" fill="#fff" stroke="#4a4a4a" stroke-width="1"/>
<line x1="976.16" x2="1281.86" y1="713.84" y2="713.84" stroke="#1c1c1c" stroke-width="1.0"/>
<text transform="translate(1129.01,707.62) scale(1.0,1)" text-anchor="middle" font-size="11.0" fill="#1a1a1a">11976 Tisinec</text>
<path d="M1288.33 834.64h304.70M1288.33 802.06h304.70M1288.33 769.48h304.70M1288.33 736.90h304.70" stroke="#ececec" stroke-width="0.7" fill="none"/>
<path d="M1288.33 850.93h304.70M1288.33 818.35h304.70M1288.33 785.77h304.70M1288.33 753.19h304.70M1288.33 720.61h304.70M1290.53 713.84v143.14M1311.36 713.84v143.14M1332.18 713.84v143.14M1353.01 713.84v143.14M1373.83 713.84v143.14M1394.66 713.84v143.14M1415.48 713.84v143.14M1436.31 713.84v143.14M1457.13 713.84v143.14M1477.96 713.84v143.14M1498.78 713.84v143.14M1519.61 713.84v143.14M1540.43 713.84v143.14M1561.26 713.84v143.14M1582.08 713.84v143.14" stroke="#ebebeb" stroke-width="1.3" fill="none"/>
<path d="M1330.31 844.09h3.75v6.84h-3.75zM1338.64 850.60h3.75v0.33h-3.75zM1346.97 848.16h3.75v2.77h-3.75zM1359.46 849.14h3.75v1.79h-3.75zM1367.79 846.21h3.75v4.72h-3.75zM1371.96 837.25h3.75v13.68h-3.75zM1376.12 850.77h3.75v0.16h-3.75zM1388.62 846.21h3.75v4.72h-3.75zM1396.95 846.21h3.75v4.72h-3.75zM1405.28 845.07h3.75v5.86h-3.75zM1417.77 847.18h3.75v3.75h-3.75zM1421.94 843.27h3.75v7.66h-3.75zM1442.76 815.25h3.75v35.68h-3.75zM1451.09 842.46h3.75v8.47h-3.75zM1455.26 822.10h3.75v28.83h-3.75zM1467.75 834.48h3.75v16.45h-3.75zM1471.92 847.18h3.75v3.75h-3.75zM1476.08 847.18h3.75v3.75h-3.75zM1484.41 834.48h3.75v16.45h-3.75zM1488.58 848.16h3.75v2.77h-3.75zM1496.91 829.10h3.75v21.83h-3.75zM1501.07 846.21h3.75v4.72h-3.75zM1513.57 850.60h3.75v0.33h-3.75zM1517.73 849.46h3.75v1.47h-3.75zM1521.90 813.79h3.75v37.14h-3.75zM1526.06 835.29h3.75v15.64h-3.75zM1530.23 833.17h3.75v17.76h-3.75zM1534.39 847.02h3.75v3.91h-3.75zM1538.56 843.27h3.75v7.66h-3.75zM1542.72 841.48h3.75v9.45h-3.75zM1551.05 787.72h3.75v63.21h-3.75zM1555.22 834.15h3.75v16.78h-3.75zM1559.38 847.18h3.75v3.75h-3.75zM1567.71 818.51h3.75v32.42h-3.75zM1571.88 850.60h3.75v0.33h-3.75zM1580.21 833.17h3.75v17.76h-3.75zM1584.37 836.59h3.75v14.34h-3.75zM1588.54 822.10h3.75v28.83h-3.75z" fill="#43a047"/>
<rect x="1288.33" y="713.84" width="304.70" height="143.14" fill="none" stroke="#444" stroke-width="1.0"/>
<rect x="1288.33" y="692.92" width="304.70" height="20.92" fill="#fff" stroke="#4a4a4a" stroke-width="1"/>
<line x1="1287.83" x2="1593.53" y1="713.84" y2="713.84" stroke="#1c1c1c" stroke-width="1.0"/>
<text transform="translate(1440.68,707.62) scale(1.0,1)" text-anchor="middle" font-size="11.0" fill="#1a1a1a">11977 Medzilaborce</text>
<path d="M41.65 1006.21h304.70M41.65 973.63h304.70M41.65 941.05h304.70M41.65 908.47h304.70" stroke="#ececec" stroke-width="0.7" fill="none"/>
<path d="M41.65 1022.50h304.70M41.65 989.92h304.70M41.65 957.34h304.70M41.65 924.76h304.70M41.65 892.18h304.70M43.85 885.40v143.00M64.67 885.40v143.00M85.50 885.40v143.00M106.33 885.40v143.00M127.15 885.40v143.00M147.97 885.40v143.00M168.80 885.40v143.00M189.62 885.40v143.00M210.45 885.40v143.00M231.28 885.40v143.00M252.10 885.40v143.00M272.93 885.40v143.00M293.75 885.40v143.00M314.58 885.40v143.00M335.40 885.40v143.00" stroke="#ebebeb" stroke-width="1.3" fill="none"/>
<path d="M83.63 1019.24h3.75v3.26h-3.75zM87.79 1021.03h3.75v1.47h-3.75zM91.96 1021.03h3.75v1.47h-3.75zM100.29 1020.22h3.75v2.28h-3.75zM112.78 1022.34h3.75v0.16h-3.75zM133.61 1018.75h3.75v3.75h-3.75zM141.94 1020.22h3.75v2.28h-3.75zM150.27 1021.20h3.75v1.30h-3.75zM154.43 1021.20h3.75v1.30h-3.75zM158.60 1020.22h3.75v2.28h-3.75zM171.09 1019.24h3.75v3.26h-3.75zM175.26 1005.40h3.75v17.10h-3.75zM179.42 1020.22h3.75v2.28h-3.75zM187.75 1015.82h3.75v6.68h-3.75zM196.08 990.57h3.75v31.93h-3.75zM204.41 1013.21h3.75v9.29h-3.75zM208.58 997.41h3.75v25.09h-3.75zM216.91 1020.06h3.75v2.44h-3.75zM221.07 1001.65h3.75v20.85h-3.75zM225.24 1014.19h3.75v8.31h-3.75zM229.40 1019.24h3.75v3.26h-3.75zM237.73 1000.18h3.75v22.32h-3.75zM241.90 1020.38h3.75v2.12h-3.75zM250.23 994.16h3.75v28.34h-3.75zM254.39 1019.57h3.75v2.93h-3.75zM258.56 1018.43h3.75v4.07h-3.75zM262.72 1020.38h3.75v2.12h-3.75zM266.89 1020.06h3.75v2.44h-3.75zM271.05 1015.17h3.75v7.33h-3.75zM275.22 971.51h3.75v50.99h-3.75zM279.38 1016.80h3.75v5.70h-3.75zM283.55 999.37h3.75v23.13h-3.75zM287.71 1012.24h3.75v10.26h-3.75zM291.88 1008.00h3.75v14.50h-3.75zM296.04 1015.17h3.75v7.33h-3.75zM304.37 973.30h3.75v49.20h-3.75zM308.54 995.30h3.75v27.20h-3.75zM312.70 1020.38h3.75v2.12h-3.75zM321.03 983.24h3.75v39.26h-3.75zM333.53 1000.18h3.75v22.32h-3.75zM337.69 1004.26h3.75v18.24h-3.75zM341.86 966.30h3.75v56.20h-3.75z" fill="#43a047"/>
<rect x="41.65" y="885.40" width="304.70" height="143.00" fill="none" stroke="#444" stroke-width="1.0"/>
<rect x="41.65" y="864.50" width="304.70" height="20.90" fill="#fff" stroke="#4a4a4a" stroke-width="1"/>
<line x1="41.15" x2="346.85" y1="885.40" y2="885.40" stroke="#1c1c1c" stroke-width="1.0"/>
<text transform="translate(194.00,879.20) scale(1.0,1)" text-anchor="middle" font-size="11.0" fill="#1a1a1a">11978 Milhostov</text>
<text transform="translate(35.00,1027.05) scale(1.0,1)" text-anchor="end" font-size="11.0" fill="#4d4d4d">0</text>
<text transform="translate(35.00,994.47) scale(1.0,1)" text-anchor="end" font-size="11.0" fill="#4d4d4d">20</text>
<text transform="translate(35.00,961.89) scale(1.0,1)" text-anchor="end" font-size="11.0" fill="#4d4d4d">40</text>
<text transform="translate(35.00,929.31) scale(1.0,1)" text-anchor="end" font-size="11.0" fill="#4d4d4d">60</text>
<text transform="translate(35.00,896.73) scale(1.0,1)" text-anchor="end" font-size="11.0" fill="#4d4d4d">80</text>
<path d="M37.98 1022.50h3.67M37.98 989.92h3.67M37.98 957.34h3.67M37.98 924.76h3.67M37.98 892.18h3.67" stroke="#333" stroke-width="1.1" fill="none"/>
<text transform="translate(52.55,1035.50) rotate(-90) scale(1.0,1)" text-anchor="end" font-size="11.0" fill="#141414">1950</text>
<text transform="translate(73.38,1035.50) rotate(-90) scale(1.0,1)" text-anchor="end" font-size="11.0" fill="#141414">1955</text>
<text transform="translate(94.20,1035.50) rotate(-90) scale(1.0,1)" text-anchor="end" font-size="11.0" fill="#141414">1960</text>
<text transform="translate(115.03,1035.50) rotate(-90) scale(1.0,1)" text-anchor="end" font-size="11.0" fill="#141414">1965</text>
<text transform="translate(135.85,1035.50) rotate(-90) scale(1.0,1)" text-anchor="end" font-size="11.0" fill="#141414">1970</text>
<text transform="translate(156.67,1035.50) rotate(-90) scale(1.0,1)" text-anchor="end" font-size="11.0" fill="#141414">1975</text>
<text transform="translate(177.50,1035.50) rotate(-90) scale(1.0,1)" text-anchor="end" font-size="11.0" fill="#141414">1980</text>
<text transform="translate(198.32,1035.50) rotate(-90) scale(1.0,1)" text-anchor="end" font-size="11.0" fill="#141414">1985</text>
<text transform="translate(219.15,1035.50) rotate(-90) scale(1.0,1)" text-anchor="end" font-size="11.0" fill="#141414">1990</text>
<text transform="translate(239.97,1035.50) rotate(-90) scale(1.0,1)" text-anchor="end" font-size="11.0" fill="#141414">1995</text>
<text transform="translate(260.80,1035.50) rotate(-90) scale(1.0,1)" text-anchor="end" font-size="11.0" fill="#141414">2000</text>
<text transform="translate(281.62,1035.50) rotate(-90) scale(1.0,1)" text-anchor="end" font-size="11.0" fill="#141414">2005</text>
<text transform="translate(302.45,1035.50) rotate(-90) scale(1.0,1)" text-anchor="end" font-size="11.0" fill="#141414">2010</text>
<text transform="translate(323.28,1035.50) rotate(-90) scale(1.0,1)" text-anchor="end" font-size="11.0" fill="#141414">2015</text>
<text transform="translate(344.10,1035.50) rotate(-90) scale(1.0,1)" text-anchor="end" font-size="11.0" fill="#141414">2020</text>
<path d="M43.85 1028.40v4.5M64.67 1028.40v4.5M85.50 1028.40v4.5M106.33 1028.40v4.5M127.15 1028.40v4.5M147.97 1028.40v4.5M168.80 1028.40v4.5M189.62 1028.40v4.5M210.45 1028.40v4.5M231.28 1028.40v4.5M252.10 1028.40v4.5M272.93 1028.40v4.5M293.75 1028.40v4.5M314.58 1028.40v4.5M335.40 1028.40v4.5" stroke="#333" stroke-width="1.1" fill="none"/>
<path d="M353.32 1006.21h304.70M353.32 973.63h304.70M353.32 941.05h304.70M353.32 908.47h304.70" stroke="#ececec" stroke-width="0.7" fill="none"/>
<path d="M353.32 1022.50h304.70M353.32 989.92h304.70M353.32 957.34h304.70M353.32 924.76h304.70M353.32 892.18h304.70M355.52 885.40v143.00M376.34 885.40v143.00M397.17 885.40v143.00M418.00 885.40v143.00M438.82 885.40v143.00M459.64 885.40v143.00M480.47 885.40v143.00M501.29 885.40v143.00M522.12 885.40v143.00M542.94 885.40v143.00M563.77 885.40v143.00M584.60 885.40v143.00M605.42 885.40v143.00M626.25 885.40v143.00M647.07 885.40v143.00" stroke="#ebebeb" stroke-width="1.3" fill="none"/>
<path d="M395.30 1015.33h3.75v7.17h-3.75zM399.46 1020.55h3.75v1.95h-3.75zM403.63 1021.20h3.75v1.30h-3.75zM411.96 1020.38h3.75v2.12h-3.75zM416.12 1022.34h3.75v0.16h-3.75zM436.95 1019.73h3.75v2.77h-3.75zM441.11 1019.73h3.75v2.77h-3.75zM445.28 1018.75h3.75v3.75h-3.75zM461.94 1020.22h3.75v2.28h-3.75zM466.10 1017.12h3.75v5.38h-3.75zM482.76 1017.78h3.75v4.72h-3.75zM486.93 1012.24h3.75v10.26h-3.75zM491.09 1021.03h3.75v1.47h-3.75zM499.42 1018.10h3.75v4.40h-3.75zM507.75 983.08h3.75v39.42h-3.75zM516.08 1010.12h3.75v12.38h-3.75zM520.25 998.23h3.75v24.27h-3.75zM532.74 1009.96h3.75v12.54h-3.75zM536.91 1015.66h3.75v6.84h-3.75zM541.07 1018.43h3.75v4.07h-3.75zM549.40 1004.58h3.75v17.92h-3.75zM553.57 1021.36h3.75v1.14h-3.75zM561.90 991.55h3.75v30.95h-3.75zM566.06 1019.57h3.75v2.93h-3.75zM570.23 1017.94h3.75v4.56h-3.75zM578.56 1020.22h3.75v2.28h-3.75zM582.72 1015.17h3.75v7.33h-3.75zM586.89 974.77h3.75v47.73h-3.75zM591.05 1015.82h3.75v6.68h-3.75zM595.22 999.37h3.75v23.13h-3.75zM599.38 1009.63h3.75v12.87h-3.75zM603.55 1001.16h3.75v21.34h-3.75zM607.71 1014.52h3.75v7.98h-3.75zM611.88 1020.22h3.75v2.28h-3.75zM616.04 994.16h3.75v28.34h-3.75zM620.21 988.29h3.75v34.21h-3.75zM624.37 1017.12h3.75v5.38h-3.75zM632.70 972.33h3.75v50.17h-3.75zM645.20 1005.72h3.75v16.78h-3.75zM649.36 1006.54h3.75v15.96h-3.75z" fill="#43a047"/>
<path d="M653.53 921.18h3.75v101.32h-3.75z" fill="#8d7b2e"/>
<rect x="353.32" y="885.40" width="304.70" height="143.00" fill="none" stroke="#444" stroke-width="1.0"/>
<rect x="353.32" y="864.50" width="304.70" height="20.90" fill="#fff" stroke="#4a4a4a" stroke-width="1"/>
<line x1="352.82" x2="658.52" y1="885.40" y2="885.40" stroke="#1c1c1c" stroke-width="1.0"/>
<text transform="translate(505.67,879.20) scale(1.0,1)" text-anchor="middle" font-size="11.0" fill="#1a1a1a">11979 Somotor</text>
<text transform="translate(364.22,1035.50) rotate(-90) scale(1.0,1)" text-anchor="end" font-size="11.0" fill="#141414">1950</text>
<text transform="translate(385.04,1035.50) rotate(-90) scale(1.0,1)" text-anchor="end" font-size="11.0" fill="#141414">1955</text>
<text transform="translate(405.87,1035.50) rotate(-90) scale(1.0,1)" text-anchor="end" font-size="11.0" fill="#141414">1960</text>
<text transform="translate(426.69,1035.50) rotate(-90) scale(1.0,1)" text-anchor="end" font-size="11.0" fill="#141414">1965</text>
<text transform="translate(447.52,1035.50) rotate(-90) scale(1.0,1)" text-anchor="end" font-size="11.0" fill="#141414">1970</text>
<text transform="translate(468.34,1035.50) rotate(-90) scale(1.0,1)" text-anchor="end" font-size="11.0" fill="#141414">1975</text>
<text transform="translate(489.17,1035.50) rotate(-90) scale(1.0,1)" text-anchor="end" font-size="11.0" fill="#141414">1980</text>
<text transform="translate(509.99,1035.50) rotate(-90) scale(1.0,1)" text-anchor="end" font-size="11.0" fill="#141414">1985</text>
<text transform="translate(530.82,1035.50) rotate(-90) scale(1.0,1)" text-anchor="end" font-size="11.0" fill="#141414">1990</text>
<text transform="translate(551.64,1035.50) rotate(-90) scale(1.0,1)" text-anchor="end" font-size="11.0" fill="#141414">1995</text>
<text transform="translate(572.47,1035.50) rotate(-90) scale(1.0,1)" text-anchor="end" font-size="11.0" fill="#141414">2000</text>
<text transform="translate(593.30,1035.50) rotate(-90) scale(1.0,1)" text-anchor="end" font-size="11.0" fill="#141414">2005</text>
<text transform="translate(614.12,1035.50) rotate(-90) scale(1.0,1)" text-anchor="end" font-size="11.0" fill="#141414">2010</text>
<text transform="translate(634.95,1035.50) rotate(-90) scale(1.0,1)" text-anchor="end" font-size="11.0" fill="#141414">2015</text>
<text transform="translate(655.77,1035.50) rotate(-90) scale(1.0,1)" text-anchor="end" font-size="11.0" fill="#141414">2020</text>
<path d="M355.52 1028.40v4.5M376.34 1028.40v4.5M397.17 1028.40v4.5M418.00 1028.40v4.5M438.82 1028.40v4.5M459.64 1028.40v4.5M480.47 1028.40v4.5M501.29 1028.40v4.5M522.12 1028.40v4.5M542.94 1028.40v4.5M563.77 1028.40v4.5M584.60 1028.40v4.5M605.42 1028.40v4.5M626.25 1028.40v4.5M647.07 1028.40v4.5" stroke="#333" stroke-width="1.1" fill="none"/>
<path d="M664.99 1006.21h304.70M664.99 973.63h304.70M664.99 941.05h304.70M664.99 908.47h304.70" stroke="#ececec" stroke-width="0.7" fill="none"/>
<path d="M664.99 1022.50h304.70M664.99 989.92h304.70M664.99 957.34h304.70M664.99 924.76h304.70M664.99 892.18h304.70M667.19 885.40v143.00M688.02 885.40v143.00M708.84 885.40v143.00M729.67 885.40v143.00M750.49 885.40v143.00M771.32 885.40v143.00M792.14 885.40v143.00M812.97 885.40v143.00M833.79 885.40v143.00M854.62 885.40v143.00M875.44 885.40v143.00M896.27 885.40v143.00M917.09 885.40v143.00M937.92 885.40v143.00M958.74 885.40v143.00" stroke="#ebebeb" stroke-width="1.3" fill="none"/>
<path d="M706.97 1011.91h3.75v10.59h-3.75zM711.13 1020.55h3.75v1.95h-3.75zM715.30 1021.52h3.75v0.98h-3.75zM723.63 1019.24h3.75v3.26h-3.75zM736.12 1019.40h3.75v3.10h-3.75zM740.29 1020.22h3.75v2.28h-3.75zM744.45 1019.73h3.75v2.77h-3.75zM748.62 1011.26h3.75v11.24h-3.75zM752.78 1019.40h3.75v3.10h-3.75zM756.95 1016.80h3.75v5.70h-3.75zM765.28 1020.06h3.75v2.44h-3.75zM773.61 1021.20h3.75v1.30h-3.75zM777.77 1019.57h3.75v2.93h-3.75zM781.94 1018.10h3.75v4.40h-3.75zM794.43 1015.33h3.75v7.17h-3.75zM798.60 1008.16h3.75v14.34h-3.75zM802.76 1021.20h3.75v1.30h-3.75zM811.09 1020.06h3.75v2.44h-3.75zM819.42 979.49h3.75v43.01h-3.75zM827.75 996.27h3.75v26.23h-3.75zM831.92 990.90h3.75v31.60h-3.75zM844.41 990.25h3.75v32.25h-3.75zM848.58 1017.61h3.75v4.89h-3.75zM852.74 1017.94h3.75v4.56h-3.75zM861.07 994.16h3.75v28.34h-3.75zM865.24 1021.20h3.75v1.30h-3.75zM873.57 989.27h3.75v33.23h-3.75zM877.73 1016.96h3.75v5.54h-3.75zM881.90 1018.10h3.75v4.40h-3.75zM886.06 1020.38h3.75v2.12h-3.75zM890.23 1021.20h3.75v1.30h-3.75zM894.39 1014.52h3.75v7.98h-3.75zM898.56 965.81h3.75v56.69h-3.75zM902.72 1000.18h3.75v22.32h-3.75zM906.89 987.15h3.75v35.35h-3.75zM911.05 1009.79h3.75v12.71h-3.75zM915.22 995.62h3.75v26.88h-3.75zM919.38 1009.14h3.75v13.36h-3.75zM927.71 958.81h3.75v63.69h-3.75zM931.88 982.43h3.75v40.07h-3.75zM936.04 1014.03h3.75v8.47h-3.75zM944.37 962.23h3.75v60.27h-3.75zM948.54 1020.38h3.75v2.12h-3.75zM956.87 998.23h3.75v24.27h-3.75zM961.03 999.21h3.75v23.29h-3.75z" fill="#43a047"/>
<path d="M965.20 902.61h3.75v119.89h-3.75z" fill="#b8581e"/>
<rect x="664.99" y="885.40" width="304.70" height="143.00" fill="none" stroke="#444" stroke-width="1.0"/>
<rect x="664.99" y="864.50" width="304.70" height="20.90" fill="#fff" stroke="#4a4a4a" stroke-width="1"/>
<line x1="664.49" x2="970.19" y1="885.40" y2="885.40" stroke="#1c1c1c" stroke-width="1.0"/>
<text transform="translate(817.34,879.20) scale(1.0,1)" text-anchor="middle" font-size="11.0" fill="#1a1a1a">11982 Michalovce</text>
<text transform="translate(675.89,1035.50) rotate(-90) scale(1.0,1)" text-anchor="end" font-size="11.0" fill="#141414">1950</text>
<text transform="translate(696.72,1035.50) rotate(-90) scale(1.0,1)" text-anchor="end" font-size="11.0" fill="#141414">1955</text>
<text transform="translate(717.54,1035.50) rotate(-90) scale(1.0,1)" text-anchor="end" font-size="11.0" fill="#141414">1960</text>
<text transform="translate(738.37,1035.50) rotate(-90) scale(1.0,1)" text-anchor="end" font-size="11.0" fill="#141414">1965</text>
<text transform="translate(759.19,1035.50) rotate(-90) scale(1.0,1)" text-anchor="end" font-size="11.0" fill="#141414">1970</text>
<text transform="translate(780.02,1035.50) rotate(-90) scale(1.0,1)" text-anchor="end" font-size="11.0" fill="#141414">1975</text>
<text transform="translate(800.84,1035.50) rotate(-90) scale(1.0,1)" text-anchor="end" font-size="11.0" fill="#141414">1980</text>
<text transform="translate(821.67,1035.50) rotate(-90) scale(1.0,1)" text-anchor="end" font-size="11.0" fill="#141414">1985</text>
<text transform="translate(842.49,1035.50) rotate(-90) scale(1.0,1)" text-anchor="end" font-size="11.0" fill="#141414">1990</text>
<text transform="translate(863.32,1035.50) rotate(-90) scale(1.0,1)" text-anchor="end" font-size="11.0" fill="#141414">1995</text>
<text transform="translate(884.14,1035.50) rotate(-90) scale(1.0,1)" text-anchor="end" font-size="11.0" fill="#141414">2000</text>
<text transform="translate(904.97,1035.50) rotate(-90) scale(1.0,1)" text-anchor="end" font-size="11.0" fill="#141414">2005</text>
<text transform="translate(925.79,1035.50) rotate(-90) scale(1.0,1)" text-anchor="end" font-size="11.0" fill="#141414">2010</text>
<text transform="translate(946.62,1035.50) rotate(-90) scale(1.0,1)" text-anchor="end" font-size="11.0" fill="#141414">2015</text>
<text transform="translate(967.44,1035.50) rotate(-90) scale(1.0,1)" text-anchor="end" font-size="11.0" fill="#141414">2020</text>
<path d="M667.19 1028.40v4.5M688.02 1028.40v4.5M708.84 1028.40v4.5M729.67 1028.40v4.5M750.49 1028.40v4.5M771.32 1028.40v4.5M792.14 1028.40v4.5M812.97 1028.40v4.5M833.79 1028.40v4.5M854.62 1028.40v4.5M875.44 1028.40v4.5M896.27 1028.40v4.5M917.09 1028.40v4.5M937.92 1028.40v4.5M958.74 1028.40v4.5" stroke="#333" stroke-width="1.1" fill="none"/>
<path d="M976.66 1006.21h304.70M976.66 973.63h304.70M976.66 941.05h304.70M976.66 908.47h304.70" stroke="#ececec" stroke-width="0.7" fill="none"/>
<path d="M976.66 1022.50h304.70M976.66 989.92h304.70M976.66 957.34h304.70M976.66 924.76h304.70M976.66 892.18h304.70M978.86 885.40v143.00M999.69 885.40v143.00M1020.51 885.40v143.00M1041.34 885.40v143.00M1062.16 885.40v143.00M1082.99 885.40v143.00M1103.81 885.40v143.00M1124.63 885.40v143.00M1145.46 885.40v143.00M1166.29 885.40v143.00M1187.11 885.40v143.00M1207.93 885.40v143.00M1228.76 885.40v143.00M1249.59 885.40v143.00M1270.41 885.40v143.00" stroke="#ebebeb" stroke-width="1.3" fill="none"/>
<path d="M976.99 1008.33h3.75v14.17h-3.75zM981.15 1020.22h3.75v2.28h-3.75zM985.32 1011.26h3.75v11.24h-3.75zM997.81 1012.24h3.75v10.26h-3.75zM1001.98 1020.38h3.75v2.12h-3.75zM1006.14 1019.73h3.75v2.77h-3.75zM1010.31 1011.75h3.75v10.75h-3.75zM1014.47 1006.37h3.75v16.13h-3.75zM1018.64 1005.40h3.75v17.10h-3.75zM1022.80 1015.66h3.75v6.84h-3.75zM1026.97 1020.55h3.75v1.95h-3.75zM1035.30 1016.15h3.75v6.35h-3.75zM1047.79 1021.20h3.75v1.30h-3.75zM1056.12 1012.56h3.75v9.94h-3.75zM1060.29 993.02h3.75v29.48h-3.75zM1064.45 1020.22h3.75v2.28h-3.75zM1072.78 1020.22h3.75v2.28h-3.75zM1076.95 997.09h3.75v25.41h-3.75zM1085.28 1009.96h3.75v12.54h-3.75zM1089.44 1019.24h3.75v3.26h-3.75zM1093.61 1012.24h3.75v10.26h-3.75zM1106.10 1008.16h3.75v14.34h-3.75zM1110.27 1007.02h3.75v15.48h-3.75zM1131.09 979.82h3.75v42.68h-3.75zM1139.42 1009.14h3.75v13.36h-3.75zM1143.59 996.27h3.75v26.23h-3.75zM1147.75 1022.34h3.75v0.16h-3.75zM1151.92 1018.10h3.75v4.40h-3.75zM1156.08 975.42h3.75v47.08h-3.75zM1160.25 1015.17h3.75v7.33h-3.75zM1164.41 1006.86h3.75v15.64h-3.75zM1172.74 1000.02h3.75v22.48h-3.75zM1176.91 1015.66h3.75v6.84h-3.75zM1185.24 985.68h3.75v36.82h-3.75zM1189.40 1014.35h3.75v8.14h-3.75zM1193.57 1018.10h3.75v4.40h-3.75zM1201.90 1015.33h3.75v7.17h-3.75zM1206.06 1019.57h3.75v2.93h-3.75zM1210.23 972.98h3.75v49.52h-3.75zM1214.39 1005.07h3.75v17.43h-3.75zM1218.56 1005.07h3.75v17.43h-3.75zM1222.72 1018.10h3.75v4.40h-3.75zM1226.89 992.20h3.75v30.30h-3.75zM1231.05 1011.26h3.75v11.24h-3.75zM1239.38 958.81h3.75v63.69h-3.75zM1243.55 988.62h3.75v33.88h-3.75zM1247.71 1016.96h3.75v5.54h-3.75zM1256.04 979.49h3.75v43.01h-3.75zM1260.21 1021.20h3.75v1.30h-3.75zM1268.54 990.25h3.75v32.25h-3.75zM1272.70 1002.95h3.75v19.55h-3.75z" fill="#43a047"/>
<path d="M1276.87 933.07h3.75v89.43h-3.75z" fill="#659741"/>
<rect x="976.66" y="885.40" width="304.70" height="143.00" fill="none" stroke="#444" stroke-width="1.0"/>
<rect x="976.66" y="864.50" width="304.70" height="20.90" fill="#fff" stroke="#4a4a4a" stroke-width="1"/>
<line x1="976.16" x2="1281.86" y1="885.40" y2="885.40" stroke="#1c1c1c" stroke-width="1.0"/>
<text transform="translate(1129.01,879.20) scale(1.0,1)" text-anchor="middle" font-size="11.0" fill="#1a1a1a">11993 Kamenica nad Cirochou</text>
<text transform="translate(987.56,1035.50) rotate(-90) scale(1.0,1)" text-anchor="end" font-size="11.0" fill="#141414">1950</text>
<text transform="translate(1008.39,1035.50) rotate(-90) scale(1.0,1)" text-anchor="end" font-size="11.0" fill="#141414">1955</text>
<text transform="translate(1029.21,1035.50) rotate(-90) scale(1.0,1)" text-anchor="end" font-size="11.0" fill="#141414">1960</text>
<text transform="translate(1050.04,1035.50) rotate(-90) scale(1.0,1)" text-anchor="end" font-size="11.0" fill="#141414">1965</text>
<text transform="translate(1070.86,1035.50) rotate(-90) scale(1.0,1)" text-anchor="end" font-size="11.0" fill="#141414">1970</text>
<text transform="translate(1091.69,1035.50) rotate(-90) scale(1.0,1)" text-anchor="end" font-size="11.0" fill="#141414">1975</text>
<text transform="translate(1112.51,1035.50) rotate(-90) scale(1.0,1)" text-anchor="end" font-size="11.0" fill="#141414">1980</text>
<text transform="translate(1133.34,1035.50) rotate(-90) scale(1.0,1)" text-anchor="end" font-size="11.0" fill="#141414">1985</text>
<text transform="translate(1154.16,1035.50) rotate(-90) scale(1.0,1)" text-anchor="end" font-size="11.0" fill="#141414">1990</text>
<text transform="translate(1174.99,1035.50) rotate(-90) scale(1.0,1)" text-anchor="end" font-size="11.0" fill="#141414">1995</text>
<text transform="translate(1195.81,1035.50) rotate(-90) scale(1.0,1)" text-anchor="end" font-size="11.0" fill="#141414">2000</text>
<text transform="translate(1216.63,1035.50) rotate(-90) scale(1.0,1)" text-anchor="end" font-size="11.0" fill="#141414">2005</text>
<text transform="translate(1237.46,1035.50) rotate(-90) scale(1.0,1)" text-anchor="end" font-size="11.0" fill="#141414">2010</text>
<text transform="translate(1258.29,1035.50) rotate(-90) scale(1.0,1)" text-anchor="end" font-size="11.0" fill="#141414">2015</text>
<text transform="translate(1279.11,1035.50) rotate(-90) scale(1.0,1)" text-anchor="end" font-size="11.0" fill="#141414">2020</text>
<path d="M978.86 1028.40v4.5M999.69 1028.40v4.5M1020.51 1028.40v4.5M1041.34 1028.40v4.5M1062.16 1028.40v4.5M1082.99 1028.40v4.5M1103.81 1028.40v4.5M1124.63 1028.40v4.5M1145.46 1028.40v4.5M1166.29 1028.40v4.5M1187.11 1028.40v4.5M1207.93 1028.40v4.5M1228.76 1028.40v4.5M1249.59 1028.40v4.5M1270.41 1028.40v4.5" stroke="#333" stroke-width="1.1" fill="none"/>
<path d="M1288.33 1006.21h304.70M1288.33 973.63h304.70M1288.33 941.05h304.70M1288.33 908.47h304.70" stroke="#ececec" stroke-width="0.7" fill="none"/>
<path d="M1288.33 1022.50h304.70M1288.33 989.92h304.70M1288.33 957.34h304.70M1288.33 924.76h304.70M1288.33 892.18h304.70M1290.53 885.40v143.00M1311.36 885.40v143.00M1332.18 885.40v143.00M1353.01 885.40v143.00M1373.83 885.40v143.00M1394.66 885.40v143.00M1415.48 885.40v143.00M1436.31 885.40v143.00M1457.13 885.40v143.00M1477.96 885.40v143.00M1498.78 885.40v143.00M1519.61 885.40v143.00M1540.43 885.40v143.00M1561.26 885.40v143.00M1582.08 885.40v143.00" stroke="#ebebeb" stroke-width="1.3" fill="none"/>
<path d="M1384.45 1022.34h3.75v0.16h-3.75zM1388.62 1020.06h3.75v2.44h-3.75zM1405.28 1016.80h3.75v5.70h-3.75zM1417.77 1018.59h3.75v3.91h-3.75zM1421.94 1008.82h3.75v13.68h-3.75zM1434.43 1019.73h3.75v2.77h-3.75zM1442.76 984.06h3.75v38.44h-3.75zM1451.09 1000.02h3.75v22.48h-3.75zM1455.26 987.48h3.75v35.02h-3.75zM1459.42 1020.22h3.75v2.28h-3.75zM1463.59 1017.12h3.75v5.38h-3.75zM1467.75 978.03h3.75v44.47h-3.75zM1471.92 1018.10h3.75v4.40h-3.75zM1476.08 1016.15h3.75v6.35h-3.75zM1484.41 992.20h3.75v30.30h-3.75zM1488.58 1020.22h3.75v2.28h-3.75zM1496.91 995.78h3.75v26.72h-3.75zM1501.07 1017.94h3.75v4.56h-3.75zM1509.40 1021.36h3.75v1.14h-3.75zM1517.73 1019.57h3.75v2.93h-3.75zM1521.90 962.23h3.75v60.27h-3.75zM1526.06 999.21h3.75v23.29h-3.75zM1530.23 994.97h3.75v27.53h-3.75zM1534.39 1014.03h3.75v8.47h-3.75zM1538.56 993.99h3.75v28.51h-3.75zM1542.72 1011.75h3.75v10.75h-3.75zM1546.89 1021.52h3.75v0.98h-3.75zM1559.38 1011.75h3.75v10.75h-3.75zM1567.71 981.29h3.75v41.21h-3.75zM1580.21 1001.00h3.75v21.50h-3.75zM1584.37 999.21h3.75v23.29h-3.75z" fill="#43a047"/>
<path d="M1588.54 895.28h3.75v127.22h-3.75z" fill="#c0360f"/>
<rect x="1288.33" y="885.40" width="304.70" height="143.00" fill="none" stroke="#444" stroke-width="1.0"/>
<rect x="1288.33" y="864.50" width="304.70" height="20.90" fill="#fff" stroke="#4a4a4a" stroke-width="1"/>
<line x1="1287.83" x2="1593.53" y1="885.40" y2="885.40" stroke="#1c1c1c" stroke-width="1.0"/>
<text transform="translate(1440.68,879.20) scale(1.0,1)" text-anchor="middle" font-size="11.0" fill="#1a1a1a">11995 Vysoká nad Uhom</text>
<text transform="translate(1299.23,1035.50) rotate(-90) scale(1.0,1)" text-anchor="end" font-size="11.0" fill="#141414">1950</text>
<text transform="translate(1320.06,1035.50) rotate(-90) scale(1.0,1)" text-anchor="end" font-size="11.0" fill="#141414">1955</text>
<text transform="translate(1340.88,1035.50) rotate(-90) scale(1.0,1)" text-anchor="end" font-size="11.0" fill="#141414">1960</text>
<text transform="translate(1361.71,1035.50) rotate(-90) scale(1.0,1)" text-anchor="end" font-size="11.0" fill="#141414">1965</text>
<text transform="translate(1382.53,1035.50) rotate(-90) scale(1.0,1)" text-anchor="end" font-size="11.0" fill="#141414">1970</text>
<text transform="translate(1403.36,1035.50) rotate(-90) scale(1.0,1)" text-anchor="end" font-size="11.0" fill="#141414">1975</text>
<text transform="translate(1424.18,1035.50) rotate(-90) scale(1.0,1)" text-anchor="end" font-size="11.0" fill="#141414">1980</text>
<text transform="translate(1445.01,1035.50) rotate(-90) scale(1.0,1)" text-anchor="end" font-size="11.0" fill="#141414">1985</text>
<text transform="translate(1465.83,1035.50) rotate(-90) scale(1.0,1)" text-anchor="end" font-size="11.0" fill="#141414">1990</text>
<text transform="translate(1486.66,1035.50) rotate(-90) scale(1.0,1)" text-anchor="end" font-size="11.0" fill="#141414">1995</text>
<text transform="translate(1507.48,1035.50) rotate(-90) scale(1.0,1)" text-anchor="end" font-size="11.0" fill="#141414">2000</text>
<text transform="translate(1528.31,1035.50) rotate(-90) scale(1.0,1)" text-anchor="end" font-size="11.0" fill="#141414">2005</text>
<text transform="translate(1549.13,1035.50) rotate(-90) scale(1.0,1)" text-anchor="end" font-size="11.0" fill="#141414">2010</text>
<text transform="translate(1569.96,1035.50) rotate(-90) scale(1.0,1)" text-anchor="end" font-size="11.0" fill="#141414">2015</text>
<text transform="translate(1590.78,1035.50) rotate(-90) scale(1.0,1)" text-anchor="end" font-size="11.0" fill="#141414">2020</text>
<path d="M1290.53 1028.40v4.5M1311.36 1028.40v4.5M1332.18 1028.40v4.5M1353.01 1028.40v4.5M1373.83 1028.40v4.5M1394.66 1028.40v4.5M1415.48 1028.40v4.5M1436.31 1028.40v4.5M1457.13 1028.40v4.5M1477.96 1028.40v4.5M1498.78 1028.40v4.5M1519.61 1028.40v4.5M1540.43 1028.40v4.5M1561.26 1028.40v4.5M1582.08 1028.40v4.5" stroke="#333" stroke-width="1.1" fill="none"/>
</svg></body></html>
